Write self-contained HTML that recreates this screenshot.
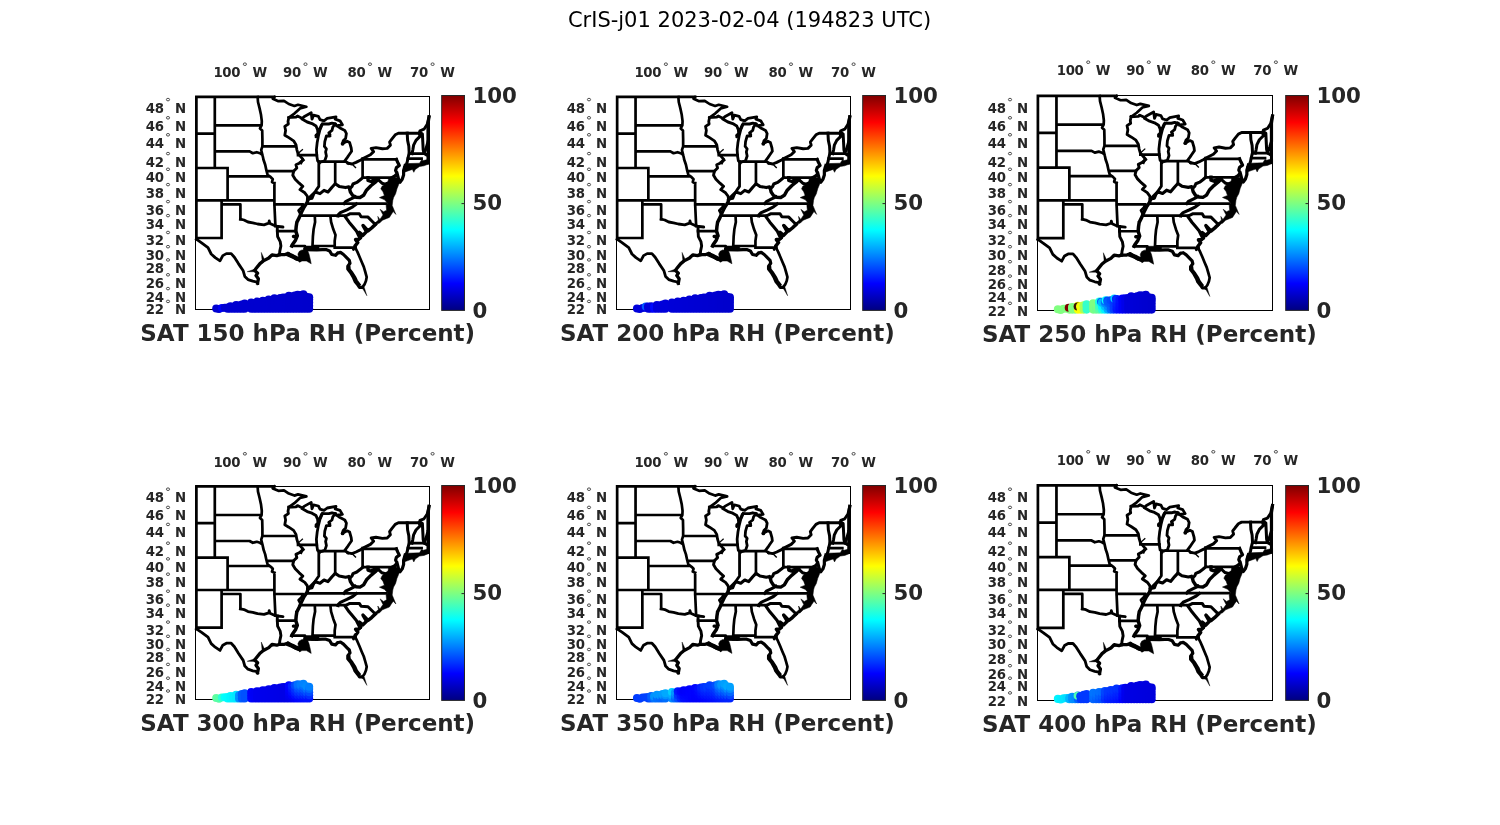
<!DOCTYPE html><html><head><meta charset="utf-8"><title>CrIS-j01 2023-02-04</title>
<style>html,body{margin:0;padding:0;background:#fff;overflow:hidden}svg{display:block;will-change:transform;-webkit-font-smoothing:antialiased}text{font-family:"DejaVu Sans","Liberation Sans",sans-serif}.b{font-weight:bold;fill:#262626}.t{font-size:13.3px;letter-spacing:-.28px}.c{font-size:21.3px}.p{font-size:23px}.m{fill:none;stroke:#000;stroke-width:2.7;stroke-linejoin:round;stroke-linecap:square}.f{fill:#000;stroke:#000;stroke-width:.5;stroke-linejoin:round}.d{fill:none;stroke:#262626;stroke-width:.8}</style></head><body>
<svg width="1500" height="825" viewBox="0 0 1500 825">
<defs><linearGradient id="jet" x1="0" y1="1" x2="0" y2="0"><stop offset="0" stop-color="rgb(0,0,128)"/><stop offset="0.125" stop-color="rgb(0,0,255)"/><stop offset="0.375" stop-color="rgb(0,255,255)"/><stop offset="0.625" stop-color="rgb(255,255,0)"/><stop offset="0.875" stop-color="rgb(255,0,0)"/><stop offset="1" stop-color="rgb(128,0,0)"/></linearGradient></defs>
<rect width="1500" height="825" fill="#fff"/>
<text x="749.5" y="27.2" font-size="21" text-anchor="middle" fill="#000">CrIS-j01 2023-02-04 (194823 UTC)</text>
<g transform="matrix(1,0,0,1,0.00,0.00)"><path class="m" d="M196.4 96.8 L196.4 239.2 M196.4 96.8 L274.4 96.8 M214.8 96.8 L214.8 168.0 M196.4 133.6 L214.8 133.6 M214.8 125.4 L260.8 125.4 M214.8 151.4 L249.6 151.4 L252.8 153.2 L256.8 152.2 L260.0 153.2 L262.4 154.8 L263.6 160.0 M257.6 96.8 L258.0 102.0 L259.6 108.4 L261.0 114.8 L261.8 121.2 L261.6 125.4 L260.0 128.4 L262.2 130.4 L262.4 138.8 L262.4 146.4 L261.2 150.0 L262.4 154.8 M262.4 146.4 L295.6 146.4 M274.4 96.8 L272.8 98.8 L278.4 101.2 L284.0 100.8 L288.8 104.0 L294.4 106.0 L298.0 104.8 L306.4 106.8 L300.0 108.4 L294.4 113.6 L288.8 117.6 M196.4 168.0 L227.6 168.0 M227.6 168.0 L227.6 200.4 M227.6 176.4 L268.0 176.4 M196.4 200.4 L274.4 200.4 M221.6 200.4 L221.6 238.0 M221.6 204.4 L240.4 204.4 L240.4 219.2 M274.4 183.2 L274.4 204.4 L275.4 226.0 M263.6 160.0 L265.2 164.8 L266.4 170.4 L267.6 174.8 L270.8 177.2 L272.8 179.2 L272.0 182.0 L274.4 183.2 M266.8 171.2 L293.6 171.2 M274.4 204.4 L303.2 204.4 L301.6 207.5 L298.6 210.5 L300.5 214.0 M196.4 238.0 L221.6 238.0 M277.3 231.1 L295.8 231.1 M291.8 246.0 L304.9 246.0 L304.9 249.6 M300.5 215.6 L345.6 215.6 M307.5 203.7 L386.2 203.7 M318.8 161.6 L344.8 161.6 M335.2 161.6 L335.2 183.2 M362.6 158.5 L362.6 177.6 M362.6 177.6 L392.0 177.6 M363.0 159.3 L396.4 159.3 M330.4 216.0 L331.1 222.0 L333.3 229.3 L335.5 235.1 L334.7 240.9 L334.7 247.4 M314.8 216.0 L315.1 222.0 L313.6 229.3 L312.9 236.5 L312.5 246.0 L312.5 249.6 M312.5 246.0 L334.7 246.0 M334.7 247.6 L352.8 247.6 L353.5 249.5 L354.5 247.5 L355.2 246.8 M298.0 155.2 L316.8 155.2 M409.2 153.6 L424.0 153.6 M408.0 158.6 L421.6 158.6"/><path class="m" style="stroke-width:3.3" d="M257.6 283.0 L258.4 278.8 L256.0 275.6 L257.6 273.2 L254.6 270.4 L256.0 268.6 L260.0 263.6 L263.4 260.9 L268.8 258.0 L272.0 254.8 L276.8 255.6 L279.5 254.7"/><path class="m" style="stroke-width:3.2" d="M279.5 254.7 L284.5 254.7 L288.2 253.3 L291.8 256.2 L295.5 258.4 L299.1 259.8 M304.9 249.6 L316.8 249.8 L322.4 249.6 L326.0 249.6 L329.6 250.9 L331.8 254.5 L335.5 255.3 L337.6 253.1 L340.5 252.4 L343.5 254.5 L347.1 258.2 L349.3 260.4 L350.0 263.3 L347.8 266.2 L347.8 269.1 L350.7 272.7 L353.6 277.8 L355.1 281.5 L358.0 285.1 L359.5 287.3 L362.4 287.3 M349.0 267.5 L349.2 269.4 L352.0 273.0 L354.9 277.6 L356.4 281.0 L359.0 284.4 M405.1 165.5 L403.6 170.5 L403.6 174.9 L402.2 179.3 L400.0 182.2 L398.5 179.0 L397.1 173.5 M429.0 116.8 L428.0 124.0 L428.0 142.0 L426.4 147.6 L424.0 153.2 M396.4 159.3 L397.8 162.5 L399.3 165.5 L396.4 167.6 L395.6 170.5 L397.1 173.5 L394.9 176.0 L392.0 177.6"/><path class="m" style="stroke-width:4.4" d="M288.5 254.6 L292.8 256.4 L296.4 258.3 L299.1 259.2"/><path class="m" style="stroke-width:3" d="M377.6 179.2 L382.0 183.2 L385.2 184.2 L387.6 183.2 M428.0 142.0 L428.0 163.0 M345.5 216.0 L349.8 213.8 L359.3 213.8 L361.1 216.7 L368.0 217.1 L373.1 222.2 L375.3 224.4 M419.2 133.2 L420.0 136.4 L416.0 140.4 L413.6 145.2 L412.8 150.0 L412.0 153.6 M407.2 133.2 L407.6 140.4 L408.8 146.0 L409.2 153.2 L408.0 158.0 L407.2 162.0 L406.0 165.5 M420.0 132.4 L422.4 134.0 L422.8 142.0 L423.2 150.0 L424.0 153.2 L426.4 154.8"/><path class="m" style="stroke-width:3.5" d="M375.3 224.4 L371.6 228.0 L368.0 230.9 L363.0 225.5 L366.5 231.6 L362.9 235.3 L359.3 232.4 L360.7 237.5 L358.5 239.6 L355.6 239.6 L357.8 242.5 L354.9 246.2 L355.1 247.3 M308.0 199.2 L307.2 202.4 L304.0 207.2 L301.6 212.0 L299.2 217.6 L296.8 222.4 L296.9 222.0 L296.2 226.4 L295.8 231.1 L297.3 235.8 L293.5 236.5 L297.3 235.8 L295.5 240.2 L292.5 244.5 L291.8 246.0"/><path class="m" style="stroke-width:3.1" d="M308.0 199.2 L312.0 195.2 L315.2 192.0 L320.0 193.6 L324.0 190.4 L328.0 192.0 L332.0 187.2 L335.2 183.8 L339.2 186.4 L345.6 187.6 L348.8 186.8 L349.6 188.8 L352.0 186.4 L353.0 184.0 L356.8 182.4 L360.0 180.0 L362.8 177.6 M356.4 204.0 L352.7 206.9 L346.9 209.8 L340.4 212.7 L338.2 214.9 L338.0 216.0 M345.5 217.1 L349.1 222.2 L352.7 226.5 L356.4 230.9 L358.5 235.3 L360.0 238.2 M355.2 196.8 L350.4 199.2 L345.6 201.6 L344.0 203.6"/><path class="m" style="stroke-width:3.4" d="M349.6 188.8 L350.4 192.0 L352.8 195.6 L356.0 197.2 L360.0 197.5 L363.6 195.3 L366.5 190.2 L370.9 185.8 L375.3 182.2 L378.2 179.3 L374.5 179.6 L371.0 181.5 L368.0 180.5 L368.0 177.6"/><path class="m" style="stroke-width:2.9" d="M348.0 163.2 L352.0 164.0 L356.0 162.4 L360.8 160.0 L364.0 158.0 L370.4 154.8 L373.6 151.6 L371.2 148.4 L376.0 147.6 L382.4 148.8 L387.2 148.4 L390.4 145.2 L389.6 142.0 L392.0 138.8 L395.2 134.8 L398.4 133.2 L419.2 133.2 L420.0 130.8 L424.0 129.2 L427.2 124.4 L429.0 116.8 M303.2 160.0 L299.2 163.2 L296.0 164.8 L296.8 168.0 L293.6 171.2 L292.8 175.2 L295.2 179.2 L299.2 183.2 L302.8 186.4 L300.0 189.6 L304.8 192.8 L307.2 196.0 L308.0 199.2 M302.4 119.2 L307.2 122.0 L312.0 123.6 L316.0 126.0 L317.6 129.6 L318.0 133.6 L316.0 136.8 L319.2 130.4 L321.6 124.8 L322.4 124.0 L328.8 124.0 L332.0 123.2 L335.2 124.0 M277.3 226.4 L277.3 230.7 L277.6 236.5 L280.2 241.6 L280.9 246.0 L279.8 251.1 L279.5 254.7"/><path class="m" style="stroke-width:1.3" d="M298.0 153.6 L302.4 149.6"/><path class="m" style="stroke-width:1.4" d="M352.0 164.0 L355.5 167.5"/><path class="m" style="stroke-width:2.7" d="M355.1 247.3 L357.3 251.6 L359.5 256.7 L361.6 261.8 L363.8 266.9 L365.3 272.0 L366.7 277.1 L366.0 280.7 L364.5 284.4 L362.4 287.3"/><path class="m" style="stroke-width:2.8" d="M318.8 161.6 L318.8 186.4 L316.0 190.4 L313.6 194.4 L312.0 198.4 L308.0 199.2 M336.8 125.6 L340.0 128.0 L344.8 130.4 L346.4 133.6 L345.6 138.4 L343.2 140.8 L342.4 143.6 L347.2 141.2 L349.6 142.4 L351.2 148.0 L351.6 151.2 L348.8 155.2 L347.2 157.6 L344.8 160.8 L348.0 163.2 M335.2 124.0 L332.8 127.2 L332.0 130.4 L328.8 132.8 L330.0 136.0 L326.4 136.0 L324.8 141.6 L324.4 146.4 L326.4 148.8 L325.6 152.0 L326.4 156.0 L324.8 160.8 L322.4 161.6 M288.8 117.6 L296.0 117.2 L297.5 116.0 L302.4 118.4 L304.0 116.8 L311.2 112.8 L312.0 119.2 L313.6 115.2 L318.4 116.4 L320.0 119.6 L324.0 120.8 L327.2 118.4 L336.0 116.8 L335.2 119.2 L340.0 120.8 L342.4 124.8 L336.8 125.6 M322.4 124.0 L320.0 129.6 L318.4 136.0 L317.2 142.4 L316.4 149.6 L316.8 156.0 L317.6 160.8 L320.0 162.5 M288.8 117.6 L288.0 121.6 L288.4 124.0 L284.8 126.4 L285.6 130.4 L284.8 135.2 L288.8 137.6 L293.6 140.8 L296.0 144.8 L296.8 149.6 L298.0 153.6 L302.8 159.2 L301.0 163.0 M196.4 239.2 L201.6 242.8 L208.0 247.6 L211.2 254.0 L215.2 257.6 L220.0 260.8 L222.8 255.6 L226.4 253.6 L231.2 253.6 L234.4 257.2 L238.4 263.6 L243.2 270.8 L244.8 276.4 L248.0 279.6 L252.8 281.2 L256.8 282.0 L257.6 283.6 M240.4 219.2 L244.0 220.0 L248.0 222.0 L252.8 222.8 L257.6 224.0 L264.0 224.8 L268.8 223.2 L269.2 221.0 L270.0 223.6 L274.4 225.6 L277.3 226.4 L283.0 227.0 L277.3 226.4"/><path class="f" d="M388.6 178.4 L392.0 178.2 L394.9 177.2 L398.6 178.5 L399.9 181.5 L398.5 185.1 L397.0 188.7 L395.6 193.8 L393.6 197.5 L392.8 200.4 L392.2 205.5 L395.9 214.4 L393.2 211.6 L391.0 214.9 L389.4 217.4 L386.2 218.7 L382.5 220.2 L379.6 223.1 L375.6 224.6 L374.4 223.6 L378.4 220.0 L377.8 216.4 L379.9 219.4 L383.0 214.9 L380.1 209.3 L383.5 211.8 L386.6 210.2 L386.1 205.5 L387.5 203.3 L384.6 199.8 L379.4 197.6 L384.4 195.6 L383.0 191.8 L380.8 188.8 L382.2 186.0 L387.6 183.2Z M407.5 163.6 L419.5 163.2 L421.5 160.0 L423.3 160.6 L429.1 159.2 L429.1 163.8 L424.0 165.8 L419.6 166.5 L415.3 169.4 L413.8 172.3 L412.4 169.4 L408.0 170.9 L404.6 172.2 L404.0 170.5 L403.4 166.6 L405.8 164.4Z M299.3 251.3 L302.0 249.9 L307.6 250.6 L309.0 254.0 L310.4 259.8 L311.2 263.8 L306.4 261.0 L302.0 261.0 L299.4 262.3 L298.7 258.4 L297.9 254.0Z M305.0 246.0 L319.0 246.0 L319.0 249.8 L305.0 249.8Z"/><path d="M361.4 286.4 L364.2 287.2 L366.9 295.8Z M262.2 261.8 L261.3 252.4 L264.8 260.2Z M255.6 268.8 L247.2 271.7 L254.8 271.8Z" fill="#000" stroke="#000" stroke-width=".4"/><circle cx="342.6" cy="143.8" r="1.9"/><circle cx="316.3" cy="135.3" r="1.7"/><circle cx="330" cy="134.3" r="1.3"/><circle cx="297" cy="116.6" r="1.4"/><circle cx="272.5" cy="255.3" r="1.5"/><circle cx="337.6" cy="252.6" r="1.1"/></g><rect x="195.5" y="96.5" width="234" height="213" fill="none" stroke="#000" stroke-width="1"/><g transform="matrix(1,0,0,1,0.00,0.00)"><g fill="#0000d1"><circle cx="216.2" cy="308.5" r="4"/></g><g fill="#0000d2"><circle cx="219.0" cy="309.1" r="4"/></g><g fill="#0000f5"><circle cx="221.9" cy="308.0" r="4"/></g><g fill="#0000d1"><circle cx="224.8" cy="307.7" r="4"/><circle cx="227.6" cy="308.8" r="4"/><circle cx="227.6" cy="307.4" r="4"/><circle cx="230.4" cy="308.8" r="4"/><circle cx="230.4" cy="306.3" r="4"/><circle cx="233.3" cy="308.8" r="4"/><circle cx="233.3" cy="306.7" r="4"/></g><g fill="#0000d0"><circle cx="236.1" cy="308.8" r="4"/><circle cx="236.1" cy="305.1" r="4"/><circle cx="239.0" cy="308.8" r="4"/><circle cx="239.0" cy="305.6" r="4"/><circle cx="241.8" cy="308.8" r="4"/><circle cx="241.8" cy="305.7" r="4"/><circle cx="241.8" cy="304.4" r="4"/><circle cx="244.7" cy="308.8" r="4"/><circle cx="244.7" cy="305.7" r="4"/><circle cx="244.7" cy="303.6" r="4"/><circle cx="251.2" cy="308.8" r="4"/><circle cx="251.2" cy="305.7" r="4"/><circle cx="251.2" cy="302.5" r="4"/></g><g fill="#0000cf"><circle cx="254.1" cy="308.8" r="4"/><circle cx="254.1" cy="305.7" r="4"/><circle cx="254.1" cy="303.1" r="4"/><circle cx="257.0" cy="308.8" r="4"/><circle cx="257.0" cy="305.7" r="4"/><circle cx="257.0" cy="301.6" r="4"/><circle cx="259.9" cy="308.8" r="4"/><circle cx="259.9" cy="305.7" r="4"/><circle cx="259.9" cy="301.9" r="4"/><circle cx="262.8" cy="308.8" r="4"/><circle cx="262.8" cy="305.7" r="4"/><circle cx="262.8" cy="302.6" r="4"/><circle cx="262.8" cy="300.7" r="4"/><circle cx="265.7" cy="308.8" r="4"/><circle cx="265.7" cy="305.7" r="4"/><circle cx="265.7" cy="302.6" r="4"/><circle cx="265.7" cy="301.0" r="4"/><circle cx="268.6" cy="308.8" r="4"/><circle cx="268.6" cy="305.7" r="4"/><circle cx="268.6" cy="302.6" r="4"/><circle cx="268.6" cy="299.6" r="4"/></g><g fill="#0000ce"><circle cx="271.5" cy="308.8" r="4"/><circle cx="271.5" cy="305.7" r="4"/><circle cx="271.5" cy="302.6" r="4"/><circle cx="271.5" cy="300.0" r="4"/><circle cx="274.4" cy="308.8" r="4"/><circle cx="274.4" cy="305.7" r="4"/><circle cx="274.4" cy="302.6" r="4"/><circle cx="274.4" cy="299.5" r="4"/><circle cx="274.4" cy="298.3" r="4"/><circle cx="277.3" cy="308.8" r="4"/><circle cx="277.3" cy="305.7" r="4"/><circle cx="277.3" cy="302.6" r="4"/><circle cx="277.3" cy="299.0" r="4"/><circle cx="280.2" cy="308.8" r="4"/><circle cx="280.2" cy="305.7" r="4"/><circle cx="280.2" cy="302.6" r="4"/><circle cx="280.2" cy="299.5" r="4"/><circle cx="280.2" cy="297.9" r="4"/><circle cx="283.1" cy="308.8" r="4"/><circle cx="283.1" cy="305.7" r="4"/><circle cx="283.1" cy="302.6" r="4"/><circle cx="283.1" cy="299.5" r="4"/><circle cx="283.1" cy="297.5" r="4"/><circle cx="286.0" cy="308.8" r="4"/><circle cx="286.0" cy="305.7" r="4"/><circle cx="286.0" cy="302.6" r="4"/><circle cx="286.0" cy="299.5" r="4"/><circle cx="286.0" cy="297.4" r="4"/></g><g fill="#0000cd"><circle cx="288.9" cy="308.8" r="4"/><circle cx="288.9" cy="305.7" r="4"/><circle cx="288.9" cy="302.6" r="4"/><circle cx="288.9" cy="299.5" r="4"/><circle cx="288.9" cy="295.7" r="4"/><circle cx="291.8" cy="308.8" r="4"/><circle cx="291.8" cy="305.7" r="4"/><circle cx="291.8" cy="302.6" r="4"/><circle cx="291.8" cy="299.5" r="4"/><circle cx="291.8" cy="296.4" r="4"/><circle cx="294.7" cy="308.8" r="4"/><circle cx="294.7" cy="305.7" r="4"/><circle cx="294.7" cy="302.6" r="4"/><circle cx="294.7" cy="299.5" r="4"/><circle cx="294.7" cy="295.6" r="4"/><circle cx="297.6" cy="308.8" r="4"/><circle cx="297.6" cy="305.7" r="4"/><circle cx="297.6" cy="302.6" r="4"/><circle cx="297.6" cy="299.5" r="4"/><circle cx="297.6" cy="296.4" r="4"/><circle cx="297.6" cy="294.7" r="4"/><circle cx="300.5" cy="308.8" r="4"/><circle cx="300.5" cy="305.7" r="4"/><circle cx="300.5" cy="302.6" r="4"/><circle cx="300.5" cy="299.5" r="4"/><circle cx="300.5" cy="296.4" r="4"/><circle cx="300.5" cy="294.9" r="4"/><circle cx="303.4" cy="308.8" r="4"/><circle cx="303.4" cy="305.7" r="4"/><circle cx="303.4" cy="302.6" r="4"/><circle cx="303.4" cy="299.5" r="4"/><circle cx="303.4" cy="296.4" r="4"/><circle cx="303.4" cy="294.2" r="4"/></g><g fill="#0000cc"><circle cx="306.3" cy="308.8" r="4"/><circle cx="306.3" cy="305.7" r="4"/><circle cx="306.3" cy="302.6" r="4"/><circle cx="306.3" cy="299.5" r="4"/><circle cx="306.3" cy="296.7" r="4"/><circle cx="309.2" cy="308.8" r="4"/><circle cx="309.2" cy="305.7" r="4"/><circle cx="309.2" cy="302.6" r="4"/><circle cx="309.2" cy="299.5" r="4"/><circle cx="309.2" cy="297.2" r="4"/></g></g><g transform="translate(0,0)"><rect x="441.7" y="95.5" width="22.8" height="214.9" fill="url(#jet)" stroke="#262626" stroke-width="1"/><path d="M461.5 203.6H464.5" stroke="#262626" stroke-width="1"/><text class="b c" x="472.4" y="102.8">100</text><text class="b c" x="472.4" y="209.8">50</text><text class="b c" x="472.4" y="317.6">0</text></g><g transform="translate(0,0)"><text class="b t" x="145.8" y="112.5">48</text><text class="b t" x="175" y="112.5">N</text><ellipse class="d" cx="168" cy="99.6" rx="1.6" ry="1.3"/><text class="b t" x="145.8" y="130.7">46</text><text class="b t" x="175" y="130.7">N</text><ellipse class="d" cx="168" cy="117.8" rx="1.6" ry="1.3"/><text class="b t" x="145.8" y="147.7">44</text><text class="b t" x="175" y="147.7">N</text><ellipse class="d" cx="168" cy="134.8" rx="1.6" ry="1.3"/><text class="b t" x="145.8" y="166.5">42</text><text class="b t" x="175" y="166.5">N</text><ellipse class="d" cx="168" cy="153.6" rx="1.6" ry="1.3"/><text class="b t" x="145.8" y="182.2">40</text><text class="b t" x="175" y="182.2">N</text><ellipse class="d" cx="168" cy="169.3" rx="1.6" ry="1.3"/><text class="b t" x="145.8" y="197.5">38</text><text class="b t" x="175" y="197.5">N</text><ellipse class="d" cx="168" cy="184.6" rx="1.6" ry="1.3"/><text class="b t" x="145.8" y="214.5">36</text><text class="b t" x="175" y="214.5">N</text><ellipse class="d" cx="168" cy="201.6" rx="1.6" ry="1.3"/><text class="b t" x="145.8" y="228.5">34</text><text class="b t" x="175" y="228.5">N</text><ellipse class="d" cx="168" cy="215.6" rx="1.6" ry="1.3"/><text class="b t" x="145.8" y="245.4">32</text><text class="b t" x="175" y="245.4">N</text><ellipse class="d" cx="168" cy="232.5" rx="1.6" ry="1.3"/><text class="b t" x="145.8" y="259.6">30</text><text class="b t" x="175" y="259.6">N</text><ellipse class="d" cx="168" cy="246.7" rx="1.6" ry="1.3"/><text class="b t" x="145.8" y="272.8">28</text><text class="b t" x="175" y="272.8">N</text><ellipse class="d" cx="168" cy="259.9" rx="1.6" ry="1.3"/><text class="b t" x="145.8" y="287.7">26</text><text class="b t" x="175" y="287.7">N</text><ellipse class="d" cx="168" cy="274.8" rx="1.6" ry="1.3"/><text class="b t" x="145.8" y="301.5">24</text><text class="b t" x="175" y="301.5">N</text><ellipse class="d" cx="168" cy="288.6" rx="1.6" ry="1.3"/><text class="b t" x="145.8" y="314.3">22</text><text class="b t" x="175" y="314.3">N</text><ellipse class="d" cx="168" cy="301.4" rx="1.6" ry="1.3"/></g><g transform="translate(0,0)"><text class="b t" x="240.3" y="77" text-anchor="end">100</text><ellipse class="d" cx="244.9" cy="64.2" rx="1.6" ry="1.3"/><text class="b t" x="252.5" y="77">W</text><text class="b t" x="300.9" y="77" text-anchor="end">90</text><ellipse class="d" cx="305.5" cy="64.2" rx="1.6" ry="1.3"/><text class="b t" x="313.1" y="77">W</text><text class="b t" x="365.4" y="77" text-anchor="end">80</text><ellipse class="d" cx="370.0" cy="64.2" rx="1.6" ry="1.3"/><text class="b t" x="377.6" y="77">W</text><text class="b t" x="428.0" y="77" text-anchor="end">70</text><ellipse class="d" cx="432.6" cy="64.2" rx="1.6" ry="1.3"/><text class="b t" x="440.2" y="77">W</text></g><text class="b p" x="140.3" y="341.0">SAT 150 hPa RH (Percent)</text>
<g transform="matrix(1,0,0,1,420.75,0.00)"><path class="m" d="M196.4 96.8 L196.4 239.2 M196.4 96.8 L274.4 96.8 M214.8 96.8 L214.8 168.0 M196.4 133.6 L214.8 133.6 M214.8 125.4 L260.8 125.4 M214.8 151.4 L249.6 151.4 L252.8 153.2 L256.8 152.2 L260.0 153.2 L262.4 154.8 L263.6 160.0 M257.6 96.8 L258.0 102.0 L259.6 108.4 L261.0 114.8 L261.8 121.2 L261.6 125.4 L260.0 128.4 L262.2 130.4 L262.4 138.8 L262.4 146.4 L261.2 150.0 L262.4 154.8 M262.4 146.4 L295.6 146.4 M274.4 96.8 L272.8 98.8 L278.4 101.2 L284.0 100.8 L288.8 104.0 L294.4 106.0 L298.0 104.8 L306.4 106.8 L300.0 108.4 L294.4 113.6 L288.8 117.6 M196.4 168.0 L227.6 168.0 M227.6 168.0 L227.6 200.4 M227.6 176.4 L268.0 176.4 M196.4 200.4 L274.4 200.4 M221.6 200.4 L221.6 238.0 M221.6 204.4 L240.4 204.4 L240.4 219.2 M274.4 183.2 L274.4 204.4 L275.4 226.0 M263.6 160.0 L265.2 164.8 L266.4 170.4 L267.6 174.8 L270.8 177.2 L272.8 179.2 L272.0 182.0 L274.4 183.2 M266.8 171.2 L293.6 171.2 M274.4 204.4 L303.2 204.4 L301.6 207.5 L298.6 210.5 L300.5 214.0 M196.4 238.0 L221.6 238.0 M277.3 231.1 L295.8 231.1 M291.8 246.0 L304.9 246.0 L304.9 249.6 M300.5 215.6 L345.6 215.6 M307.5 203.7 L386.2 203.7 M318.8 161.6 L344.8 161.6 M335.2 161.6 L335.2 183.2 M362.6 158.5 L362.6 177.6 M362.6 177.6 L392.0 177.6 M363.0 159.3 L396.4 159.3 M330.4 216.0 L331.1 222.0 L333.3 229.3 L335.5 235.1 L334.7 240.9 L334.7 247.4 M314.8 216.0 L315.1 222.0 L313.6 229.3 L312.9 236.5 L312.5 246.0 L312.5 249.6 M312.5 246.0 L334.7 246.0 M334.7 247.6 L352.8 247.6 L353.5 249.5 L354.5 247.5 L355.2 246.8 M298.0 155.2 L316.8 155.2 M409.2 153.6 L424.0 153.6 M408.0 158.6 L421.6 158.6"/><path class="m" style="stroke-width:3.3" d="M257.6 283.0 L258.4 278.8 L256.0 275.6 L257.6 273.2 L254.6 270.4 L256.0 268.6 L260.0 263.6 L263.4 260.9 L268.8 258.0 L272.0 254.8 L276.8 255.6 L279.5 254.7"/><path class="m" style="stroke-width:3.2" d="M279.5 254.7 L284.5 254.7 L288.2 253.3 L291.8 256.2 L295.5 258.4 L299.1 259.8 M304.9 249.6 L316.8 249.8 L322.4 249.6 L326.0 249.6 L329.6 250.9 L331.8 254.5 L335.5 255.3 L337.6 253.1 L340.5 252.4 L343.5 254.5 L347.1 258.2 L349.3 260.4 L350.0 263.3 L347.8 266.2 L347.8 269.1 L350.7 272.7 L353.6 277.8 L355.1 281.5 L358.0 285.1 L359.5 287.3 L362.4 287.3 M349.0 267.5 L349.2 269.4 L352.0 273.0 L354.9 277.6 L356.4 281.0 L359.0 284.4 M405.1 165.5 L403.6 170.5 L403.6 174.9 L402.2 179.3 L400.0 182.2 L398.5 179.0 L397.1 173.5 M429.0 116.8 L428.0 124.0 L428.0 142.0 L426.4 147.6 L424.0 153.2 M396.4 159.3 L397.8 162.5 L399.3 165.5 L396.4 167.6 L395.6 170.5 L397.1 173.5 L394.9 176.0 L392.0 177.6"/><path class="m" style="stroke-width:4.4" d="M288.5 254.6 L292.8 256.4 L296.4 258.3 L299.1 259.2"/><path class="m" style="stroke-width:3" d="M377.6 179.2 L382.0 183.2 L385.2 184.2 L387.6 183.2 M428.0 142.0 L428.0 163.0 M345.5 216.0 L349.8 213.8 L359.3 213.8 L361.1 216.7 L368.0 217.1 L373.1 222.2 L375.3 224.4 M419.2 133.2 L420.0 136.4 L416.0 140.4 L413.6 145.2 L412.8 150.0 L412.0 153.6 M407.2 133.2 L407.6 140.4 L408.8 146.0 L409.2 153.2 L408.0 158.0 L407.2 162.0 L406.0 165.5 M420.0 132.4 L422.4 134.0 L422.8 142.0 L423.2 150.0 L424.0 153.2 L426.4 154.8"/><path class="m" style="stroke-width:3.5" d="M375.3 224.4 L371.6 228.0 L368.0 230.9 L363.0 225.5 L366.5 231.6 L362.9 235.3 L359.3 232.4 L360.7 237.5 L358.5 239.6 L355.6 239.6 L357.8 242.5 L354.9 246.2 L355.1 247.3 M308.0 199.2 L307.2 202.4 L304.0 207.2 L301.6 212.0 L299.2 217.6 L296.8 222.4 L296.9 222.0 L296.2 226.4 L295.8 231.1 L297.3 235.8 L293.5 236.5 L297.3 235.8 L295.5 240.2 L292.5 244.5 L291.8 246.0"/><path class="m" style="stroke-width:3.1" d="M308.0 199.2 L312.0 195.2 L315.2 192.0 L320.0 193.6 L324.0 190.4 L328.0 192.0 L332.0 187.2 L335.2 183.8 L339.2 186.4 L345.6 187.6 L348.8 186.8 L349.6 188.8 L352.0 186.4 L353.0 184.0 L356.8 182.4 L360.0 180.0 L362.8 177.6 M356.4 204.0 L352.7 206.9 L346.9 209.8 L340.4 212.7 L338.2 214.9 L338.0 216.0 M345.5 217.1 L349.1 222.2 L352.7 226.5 L356.4 230.9 L358.5 235.3 L360.0 238.2 M355.2 196.8 L350.4 199.2 L345.6 201.6 L344.0 203.6"/><path class="m" style="stroke-width:3.4" d="M349.6 188.8 L350.4 192.0 L352.8 195.6 L356.0 197.2 L360.0 197.5 L363.6 195.3 L366.5 190.2 L370.9 185.8 L375.3 182.2 L378.2 179.3 L374.5 179.6 L371.0 181.5 L368.0 180.5 L368.0 177.6"/><path class="m" style="stroke-width:2.9" d="M348.0 163.2 L352.0 164.0 L356.0 162.4 L360.8 160.0 L364.0 158.0 L370.4 154.8 L373.6 151.6 L371.2 148.4 L376.0 147.6 L382.4 148.8 L387.2 148.4 L390.4 145.2 L389.6 142.0 L392.0 138.8 L395.2 134.8 L398.4 133.2 L419.2 133.2 L420.0 130.8 L424.0 129.2 L427.2 124.4 L429.0 116.8 M303.2 160.0 L299.2 163.2 L296.0 164.8 L296.8 168.0 L293.6 171.2 L292.8 175.2 L295.2 179.2 L299.2 183.2 L302.8 186.4 L300.0 189.6 L304.8 192.8 L307.2 196.0 L308.0 199.2 M302.4 119.2 L307.2 122.0 L312.0 123.6 L316.0 126.0 L317.6 129.6 L318.0 133.6 L316.0 136.8 L319.2 130.4 L321.6 124.8 L322.4 124.0 L328.8 124.0 L332.0 123.2 L335.2 124.0 M277.3 226.4 L277.3 230.7 L277.6 236.5 L280.2 241.6 L280.9 246.0 L279.8 251.1 L279.5 254.7"/><path class="m" style="stroke-width:1.3" d="M298.0 153.6 L302.4 149.6"/><path class="m" style="stroke-width:1.4" d="M352.0 164.0 L355.5 167.5"/><path class="m" style="stroke-width:2.7" d="M355.1 247.3 L357.3 251.6 L359.5 256.7 L361.6 261.8 L363.8 266.9 L365.3 272.0 L366.7 277.1 L366.0 280.7 L364.5 284.4 L362.4 287.3"/><path class="m" style="stroke-width:2.8" d="M318.8 161.6 L318.8 186.4 L316.0 190.4 L313.6 194.4 L312.0 198.4 L308.0 199.2 M336.8 125.6 L340.0 128.0 L344.8 130.4 L346.4 133.6 L345.6 138.4 L343.2 140.8 L342.4 143.6 L347.2 141.2 L349.6 142.4 L351.2 148.0 L351.6 151.2 L348.8 155.2 L347.2 157.6 L344.8 160.8 L348.0 163.2 M335.2 124.0 L332.8 127.2 L332.0 130.4 L328.8 132.8 L330.0 136.0 L326.4 136.0 L324.8 141.6 L324.4 146.4 L326.4 148.8 L325.6 152.0 L326.4 156.0 L324.8 160.8 L322.4 161.6 M288.8 117.6 L296.0 117.2 L297.5 116.0 L302.4 118.4 L304.0 116.8 L311.2 112.8 L312.0 119.2 L313.6 115.2 L318.4 116.4 L320.0 119.6 L324.0 120.8 L327.2 118.4 L336.0 116.8 L335.2 119.2 L340.0 120.8 L342.4 124.8 L336.8 125.6 M322.4 124.0 L320.0 129.6 L318.4 136.0 L317.2 142.4 L316.4 149.6 L316.8 156.0 L317.6 160.8 L320.0 162.5 M288.8 117.6 L288.0 121.6 L288.4 124.0 L284.8 126.4 L285.6 130.4 L284.8 135.2 L288.8 137.6 L293.6 140.8 L296.0 144.8 L296.8 149.6 L298.0 153.6 L302.8 159.2 L301.0 163.0 M196.4 239.2 L201.6 242.8 L208.0 247.6 L211.2 254.0 L215.2 257.6 L220.0 260.8 L222.8 255.6 L226.4 253.6 L231.2 253.6 L234.4 257.2 L238.4 263.6 L243.2 270.8 L244.8 276.4 L248.0 279.6 L252.8 281.2 L256.8 282.0 L257.6 283.6 M240.4 219.2 L244.0 220.0 L248.0 222.0 L252.8 222.8 L257.6 224.0 L264.0 224.8 L268.8 223.2 L269.2 221.0 L270.0 223.6 L274.4 225.6 L277.3 226.4 L283.0 227.0 L277.3 226.4"/><path class="f" d="M388.6 178.4 L392.0 178.2 L394.9 177.2 L398.6 178.5 L399.9 181.5 L398.5 185.1 L397.0 188.7 L395.6 193.8 L393.6 197.5 L392.8 200.4 L392.2 205.5 L395.9 214.4 L393.2 211.6 L391.0 214.9 L389.4 217.4 L386.2 218.7 L382.5 220.2 L379.6 223.1 L375.6 224.6 L374.4 223.6 L378.4 220.0 L377.8 216.4 L379.9 219.4 L383.0 214.9 L380.1 209.3 L383.5 211.8 L386.6 210.2 L386.1 205.5 L387.5 203.3 L384.6 199.8 L379.4 197.6 L384.4 195.6 L383.0 191.8 L380.8 188.8 L382.2 186.0 L387.6 183.2Z M407.5 163.6 L419.5 163.2 L421.5 160.0 L423.3 160.6 L429.1 159.2 L429.1 163.8 L424.0 165.8 L419.6 166.5 L415.3 169.4 L413.8 172.3 L412.4 169.4 L408.0 170.9 L404.6 172.2 L404.0 170.5 L403.4 166.6 L405.8 164.4Z M299.3 251.3 L302.0 249.9 L307.6 250.6 L309.0 254.0 L310.4 259.8 L311.2 263.8 L306.4 261.0 L302.0 261.0 L299.4 262.3 L298.7 258.4 L297.9 254.0Z M305.0 246.0 L319.0 246.0 L319.0 249.8 L305.0 249.8Z"/><path d="M361.4 286.4 L364.2 287.2 L366.9 295.8Z M262.2 261.8 L261.3 252.4 L264.8 260.2Z M255.6 268.8 L247.2 271.7 L254.8 271.8Z" fill="#000" stroke="#000" stroke-width=".4"/><circle cx="342.6" cy="143.8" r="1.9"/><circle cx="316.3" cy="135.3" r="1.7"/><circle cx="330" cy="134.3" r="1.3"/><circle cx="297" cy="116.6" r="1.4"/><circle cx="272.5" cy="255.3" r="1.5"/><circle cx="337.6" cy="252.6" r="1.1"/></g><rect x="616.5" y="96.5" width="234" height="213" fill="none" stroke="#000" stroke-width="1"/><g transform="matrix(1,0,0,1,420.75,0.00)"><g fill="#0000db"><circle cx="216.2" cy="308.5" r="4"/><circle cx="219.0" cy="309.1" r="4"/><circle cx="221.9" cy="308.0" r="4"/><circle cx="224.8" cy="307.7" r="4"/></g><g fill="#0057ff"><circle cx="225.0" cy="306.6" r="4"/></g><g fill="#0000e0"><circle cx="227.2" cy="306.6" r="4"/></g><g fill="#0000db"><circle cx="227.6" cy="308.8" r="4"/><circle cx="227.6" cy="307.4" r="4"/><circle cx="230.4" cy="308.8" r="4"/><circle cx="230.4" cy="306.3" r="4"/></g><g fill="#0001ff"><circle cx="233.3" cy="308.8" r="4"/></g><g fill="#000aff"><circle cx="233.3" cy="306.7" r="4"/></g><g fill="#0000db"><circle cx="236.1" cy="308.8" r="4"/><circle cx="236.1" cy="305.1" r="4"/><circle cx="239.0" cy="308.8" r="4"/><circle cx="239.0" cy="305.6" r="4"/></g><g fill="#0000da"><circle cx="241.8" cy="308.8" r="4"/><circle cx="241.8" cy="305.7" r="4"/><circle cx="241.8" cy="304.4" r="4"/><circle cx="244.7" cy="308.8" r="4"/><circle cx="244.7" cy="305.7" r="4"/><circle cx="244.7" cy="303.6" r="4"/></g><g fill="#0000d8"><circle cx="251.2" cy="308.8" r="4"/><circle cx="251.2" cy="305.7" r="4"/><circle cx="251.2" cy="302.5" r="4"/><circle cx="254.1" cy="308.8" r="4"/><circle cx="254.1" cy="305.7" r="4"/><circle cx="254.1" cy="303.1" r="4"/></g><g fill="#0000d7"><circle cx="257.0" cy="308.8" r="4"/><circle cx="257.0" cy="305.7" r="4"/><circle cx="257.0" cy="301.6" r="4"/><circle cx="259.9" cy="308.8" r="4"/><circle cx="259.9" cy="305.7" r="4"/><circle cx="259.9" cy="301.9" r="4"/></g><g fill="#0000d6"><circle cx="262.8" cy="308.8" r="4"/><circle cx="262.8" cy="305.7" r="4"/><circle cx="262.8" cy="302.6" r="4"/><circle cx="262.8" cy="300.7" r="4"/></g><g fill="#0000d5"><circle cx="265.7" cy="308.8" r="4"/><circle cx="265.7" cy="305.7" r="4"/><circle cx="265.7" cy="302.6" r="4"/><circle cx="265.7" cy="301.0" r="4"/><circle cx="268.6" cy="308.8" r="4"/><circle cx="268.6" cy="305.7" r="4"/><circle cx="268.6" cy="302.6" r="4"/><circle cx="268.6" cy="299.6" r="4"/></g><g fill="#0000d4"><circle cx="271.5" cy="308.8" r="4"/><circle cx="271.5" cy="305.7" r="4"/><circle cx="271.5" cy="302.6" r="4"/><circle cx="271.5" cy="300.0" r="4"/><circle cx="274.4" cy="308.8" r="4"/><circle cx="274.4" cy="305.7" r="4"/><circle cx="274.4" cy="302.6" r="4"/><circle cx="274.4" cy="299.5" r="4"/><circle cx="274.4" cy="298.3" r="4"/></g><g fill="#0000d3"><circle cx="277.3" cy="308.8" r="4"/><circle cx="277.3" cy="305.7" r="4"/><circle cx="277.3" cy="302.6" r="4"/><circle cx="277.3" cy="299.0" r="4"/><circle cx="280.2" cy="308.8" r="4"/><circle cx="280.2" cy="305.7" r="4"/><circle cx="280.2" cy="302.6" r="4"/><circle cx="280.2" cy="299.5" r="4"/><circle cx="280.2" cy="297.9" r="4"/></g><g fill="#0000d2"><circle cx="283.1" cy="308.8" r="4"/><circle cx="283.1" cy="305.7" r="4"/><circle cx="283.1" cy="302.6" r="4"/><circle cx="283.1" cy="299.5" r="4"/><circle cx="283.1" cy="297.5" r="4"/></g><g fill="#0000d1"><circle cx="286.0" cy="308.8" r="4"/><circle cx="286.0" cy="305.7" r="4"/><circle cx="286.0" cy="302.6" r="4"/><circle cx="286.0" cy="299.5" r="4"/><circle cx="286.0" cy="297.4" r="4"/><circle cx="288.9" cy="308.8" r="4"/><circle cx="288.9" cy="305.7" r="4"/><circle cx="288.9" cy="302.6" r="4"/><circle cx="288.9" cy="299.5" r="4"/><circle cx="288.9" cy="295.7" r="4"/></g><g fill="#0000d0"><circle cx="291.8" cy="308.8" r="4"/><circle cx="291.8" cy="305.7" r="4"/><circle cx="291.8" cy="302.6" r="4"/><circle cx="291.8" cy="299.5" r="4"/><circle cx="291.8" cy="296.4" r="4"/><circle cx="294.7" cy="308.8" r="4"/><circle cx="294.7" cy="305.7" r="4"/><circle cx="294.7" cy="302.6" r="4"/><circle cx="294.7" cy="299.5" r="4"/><circle cx="294.7" cy="295.6" r="4"/></g><g fill="#0000cf"><circle cx="297.6" cy="308.8" r="4"/><circle cx="297.6" cy="305.7" r="4"/><circle cx="297.6" cy="302.6" r="4"/><circle cx="297.6" cy="299.5" r="4"/><circle cx="297.6" cy="296.4" r="4"/><circle cx="297.6" cy="294.7" r="4"/></g><g fill="#0000ce"><circle cx="300.5" cy="308.8" r="4"/><circle cx="300.5" cy="305.7" r="4"/><circle cx="300.5" cy="302.6" r="4"/><circle cx="300.5" cy="299.5" r="4"/><circle cx="300.5" cy="296.4" r="4"/><circle cx="300.5" cy="294.9" r="4"/><circle cx="303.4" cy="308.8" r="4"/><circle cx="303.4" cy="305.7" r="4"/><circle cx="303.4" cy="302.6" r="4"/><circle cx="303.4" cy="299.5" r="4"/><circle cx="303.4" cy="296.4" r="4"/><circle cx="303.4" cy="294.2" r="4"/></g><g fill="#0000cd"><circle cx="306.3" cy="308.8" r="4"/><circle cx="306.3" cy="305.7" r="4"/><circle cx="306.3" cy="302.6" r="4"/><circle cx="306.3" cy="299.5" r="4"/><circle cx="306.3" cy="296.7" r="4"/><circle cx="309.2" cy="308.8" r="4"/><circle cx="309.2" cy="305.7" r="4"/><circle cx="309.2" cy="302.6" r="4"/><circle cx="309.2" cy="299.5" r="4"/><circle cx="309.2" cy="297.2" r="4"/></g></g><g transform="translate(421,0)"><rect x="441.7" y="95.5" width="22.8" height="214.9" fill="url(#jet)" stroke="#262626" stroke-width="1"/><path d="M461.5 203.6H464.5" stroke="#262626" stroke-width="1"/><text class="b c" x="472.4" y="102.8">100</text><text class="b c" x="472.4" y="209.8">50</text><text class="b c" x="472.4" y="317.6">0</text></g><g transform="translate(421,0)"><text class="b t" x="145.8" y="112.5">48</text><text class="b t" x="175" y="112.5">N</text><ellipse class="d" cx="168" cy="99.6" rx="1.6" ry="1.3"/><text class="b t" x="145.8" y="130.7">46</text><text class="b t" x="175" y="130.7">N</text><ellipse class="d" cx="168" cy="117.8" rx="1.6" ry="1.3"/><text class="b t" x="145.8" y="147.7">44</text><text class="b t" x="175" y="147.7">N</text><ellipse class="d" cx="168" cy="134.8" rx="1.6" ry="1.3"/><text class="b t" x="145.8" y="166.5">42</text><text class="b t" x="175" y="166.5">N</text><ellipse class="d" cx="168" cy="153.6" rx="1.6" ry="1.3"/><text class="b t" x="145.8" y="182.2">40</text><text class="b t" x="175" y="182.2">N</text><ellipse class="d" cx="168" cy="169.3" rx="1.6" ry="1.3"/><text class="b t" x="145.8" y="197.5">38</text><text class="b t" x="175" y="197.5">N</text><ellipse class="d" cx="168" cy="184.6" rx="1.6" ry="1.3"/><text class="b t" x="145.8" y="214.5">36</text><text class="b t" x="175" y="214.5">N</text><ellipse class="d" cx="168" cy="201.6" rx="1.6" ry="1.3"/><text class="b t" x="145.8" y="228.5">34</text><text class="b t" x="175" y="228.5">N</text><ellipse class="d" cx="168" cy="215.6" rx="1.6" ry="1.3"/><text class="b t" x="145.8" y="245.4">32</text><text class="b t" x="175" y="245.4">N</text><ellipse class="d" cx="168" cy="232.5" rx="1.6" ry="1.3"/><text class="b t" x="145.8" y="259.6">30</text><text class="b t" x="175" y="259.6">N</text><ellipse class="d" cx="168" cy="246.7" rx="1.6" ry="1.3"/><text class="b t" x="145.8" y="272.8">28</text><text class="b t" x="175" y="272.8">N</text><ellipse class="d" cx="168" cy="259.9" rx="1.6" ry="1.3"/><text class="b t" x="145.8" y="287.7">26</text><text class="b t" x="175" y="287.7">N</text><ellipse class="d" cx="168" cy="274.8" rx="1.6" ry="1.3"/><text class="b t" x="145.8" y="301.5">24</text><text class="b t" x="175" y="301.5">N</text><ellipse class="d" cx="168" cy="288.6" rx="1.6" ry="1.3"/><text class="b t" x="145.8" y="314.3">22</text><text class="b t" x="175" y="314.3">N</text><ellipse class="d" cx="168" cy="301.4" rx="1.6" ry="1.3"/></g><g transform="translate(421,0)"><text class="b t" x="240.3" y="77" text-anchor="end">100</text><ellipse class="d" cx="244.9" cy="64.2" rx="1.6" ry="1.3"/><text class="b t" x="252.5" y="77">W</text><text class="b t" x="300.9" y="77" text-anchor="end">90</text><ellipse class="d" cx="305.5" cy="64.2" rx="1.6" ry="1.3"/><text class="b t" x="313.1" y="77">W</text><text class="b t" x="365.4" y="77" text-anchor="end">80</text><ellipse class="d" cx="370.0" cy="64.2" rx="1.6" ry="1.3"/><text class="b t" x="377.6" y="77">W</text><text class="b t" x="428.0" y="77" text-anchor="end">70</text><ellipse class="d" cx="432.6" cy="64.2" rx="1.6" ry="1.3"/><text class="b t" x="440.2" y="77">W</text></g><text class="b p" x="559.9" y="341.0">SAT 200 hPa RH (Percent)</text>
<g transform="matrix(1.0085,0,0,1.0085,839.83,-1.82)"><path class="m" d="M196.4 96.8 L196.4 239.2 M196.4 96.8 L274.4 96.8 M214.8 96.8 L214.8 168.0 M196.4 133.6 L214.8 133.6 M214.8 125.4 L260.8 125.4 M214.8 151.4 L249.6 151.4 L252.8 153.2 L256.8 152.2 L260.0 153.2 L262.4 154.8 L263.6 160.0 M257.6 96.8 L258.0 102.0 L259.6 108.4 L261.0 114.8 L261.8 121.2 L261.6 125.4 L260.0 128.4 L262.2 130.4 L262.4 138.8 L262.4 146.4 L261.2 150.0 L262.4 154.8 M262.4 146.4 L295.6 146.4 M274.4 96.8 L272.8 98.8 L278.4 101.2 L284.0 100.8 L288.8 104.0 L294.4 106.0 L298.0 104.8 L306.4 106.8 L300.0 108.4 L294.4 113.6 L288.8 117.6 M196.4 168.0 L227.6 168.0 M227.6 168.0 L227.6 200.4 M227.6 176.4 L268.0 176.4 M196.4 200.4 L274.4 200.4 M221.6 200.4 L221.6 238.0 M221.6 204.4 L240.4 204.4 L240.4 219.2 M274.4 183.2 L274.4 204.4 L275.4 226.0 M263.6 160.0 L265.2 164.8 L266.4 170.4 L267.6 174.8 L270.8 177.2 L272.8 179.2 L272.0 182.0 L274.4 183.2 M266.8 171.2 L293.6 171.2 M274.4 204.4 L303.2 204.4 L301.6 207.5 L298.6 210.5 L300.5 214.0 M196.4 238.0 L221.6 238.0 M277.3 231.1 L295.8 231.1 M291.8 246.0 L304.9 246.0 L304.9 249.6 M300.5 215.6 L345.6 215.6 M307.5 203.7 L386.2 203.7 M318.8 161.6 L344.8 161.6 M335.2 161.6 L335.2 183.2 M362.6 158.5 L362.6 177.6 M362.6 177.6 L392.0 177.6 M363.0 159.3 L396.4 159.3 M330.4 216.0 L331.1 222.0 L333.3 229.3 L335.5 235.1 L334.7 240.9 L334.7 247.4 M314.8 216.0 L315.1 222.0 L313.6 229.3 L312.9 236.5 L312.5 246.0 L312.5 249.6 M312.5 246.0 L334.7 246.0 M334.7 247.6 L352.8 247.6 L353.5 249.5 L354.5 247.5 L355.2 246.8 M298.0 155.2 L316.8 155.2 M409.2 153.6 L424.0 153.6 M408.0 158.6 L421.6 158.6"/><path class="m" style="stroke-width:3.3" d="M257.6 283.0 L258.4 278.8 L256.0 275.6 L257.6 273.2 L254.6 270.4 L256.0 268.6 L260.0 263.6 L263.4 260.9 L268.8 258.0 L272.0 254.8 L276.8 255.6 L279.5 254.7"/><path class="m" style="stroke-width:3.2" d="M279.5 254.7 L284.5 254.7 L288.2 253.3 L291.8 256.2 L295.5 258.4 L299.1 259.8 M304.9 249.6 L316.8 249.8 L322.4 249.6 L326.0 249.6 L329.6 250.9 L331.8 254.5 L335.5 255.3 L337.6 253.1 L340.5 252.4 L343.5 254.5 L347.1 258.2 L349.3 260.4 L350.0 263.3 L347.8 266.2 L347.8 269.1 L350.7 272.7 L353.6 277.8 L355.1 281.5 L358.0 285.1 L359.5 287.3 L362.4 287.3 M349.0 267.5 L349.2 269.4 L352.0 273.0 L354.9 277.6 L356.4 281.0 L359.0 284.4 M405.1 165.5 L403.6 170.5 L403.6 174.9 L402.2 179.3 L400.0 182.2 L398.5 179.0 L397.1 173.5 M429.0 116.8 L428.0 124.0 L428.0 142.0 L426.4 147.6 L424.0 153.2 M396.4 159.3 L397.8 162.5 L399.3 165.5 L396.4 167.6 L395.6 170.5 L397.1 173.5 L394.9 176.0 L392.0 177.6"/><path class="m" style="stroke-width:4.4" d="M288.5 254.6 L292.8 256.4 L296.4 258.3 L299.1 259.2"/><path class="m" style="stroke-width:3" d="M377.6 179.2 L382.0 183.2 L385.2 184.2 L387.6 183.2 M428.0 142.0 L428.0 163.0 M345.5 216.0 L349.8 213.8 L359.3 213.8 L361.1 216.7 L368.0 217.1 L373.1 222.2 L375.3 224.4 M419.2 133.2 L420.0 136.4 L416.0 140.4 L413.6 145.2 L412.8 150.0 L412.0 153.6 M407.2 133.2 L407.6 140.4 L408.8 146.0 L409.2 153.2 L408.0 158.0 L407.2 162.0 L406.0 165.5 M420.0 132.4 L422.4 134.0 L422.8 142.0 L423.2 150.0 L424.0 153.2 L426.4 154.8"/><path class="m" style="stroke-width:3.5" d="M375.3 224.4 L371.6 228.0 L368.0 230.9 L363.0 225.5 L366.5 231.6 L362.9 235.3 L359.3 232.4 L360.7 237.5 L358.5 239.6 L355.6 239.6 L357.8 242.5 L354.9 246.2 L355.1 247.3 M308.0 199.2 L307.2 202.4 L304.0 207.2 L301.6 212.0 L299.2 217.6 L296.8 222.4 L296.9 222.0 L296.2 226.4 L295.8 231.1 L297.3 235.8 L293.5 236.5 L297.3 235.8 L295.5 240.2 L292.5 244.5 L291.8 246.0"/><path class="m" style="stroke-width:3.1" d="M308.0 199.2 L312.0 195.2 L315.2 192.0 L320.0 193.6 L324.0 190.4 L328.0 192.0 L332.0 187.2 L335.2 183.8 L339.2 186.4 L345.6 187.6 L348.8 186.8 L349.6 188.8 L352.0 186.4 L353.0 184.0 L356.8 182.4 L360.0 180.0 L362.8 177.6 M356.4 204.0 L352.7 206.9 L346.9 209.8 L340.4 212.7 L338.2 214.9 L338.0 216.0 M345.5 217.1 L349.1 222.2 L352.7 226.5 L356.4 230.9 L358.5 235.3 L360.0 238.2 M355.2 196.8 L350.4 199.2 L345.6 201.6 L344.0 203.6"/><path class="m" style="stroke-width:3.4" d="M349.6 188.8 L350.4 192.0 L352.8 195.6 L356.0 197.2 L360.0 197.5 L363.6 195.3 L366.5 190.2 L370.9 185.8 L375.3 182.2 L378.2 179.3 L374.5 179.6 L371.0 181.5 L368.0 180.5 L368.0 177.6"/><path class="m" style="stroke-width:2.9" d="M348.0 163.2 L352.0 164.0 L356.0 162.4 L360.8 160.0 L364.0 158.0 L370.4 154.8 L373.6 151.6 L371.2 148.4 L376.0 147.6 L382.4 148.8 L387.2 148.4 L390.4 145.2 L389.6 142.0 L392.0 138.8 L395.2 134.8 L398.4 133.2 L419.2 133.2 L420.0 130.8 L424.0 129.2 L427.2 124.4 L429.0 116.8 M303.2 160.0 L299.2 163.2 L296.0 164.8 L296.8 168.0 L293.6 171.2 L292.8 175.2 L295.2 179.2 L299.2 183.2 L302.8 186.4 L300.0 189.6 L304.8 192.8 L307.2 196.0 L308.0 199.2 M302.4 119.2 L307.2 122.0 L312.0 123.6 L316.0 126.0 L317.6 129.6 L318.0 133.6 L316.0 136.8 L319.2 130.4 L321.6 124.8 L322.4 124.0 L328.8 124.0 L332.0 123.2 L335.2 124.0 M277.3 226.4 L277.3 230.7 L277.6 236.5 L280.2 241.6 L280.9 246.0 L279.8 251.1 L279.5 254.7"/><path class="m" style="stroke-width:1.3" d="M298.0 153.6 L302.4 149.6"/><path class="m" style="stroke-width:1.4" d="M352.0 164.0 L355.5 167.5"/><path class="m" style="stroke-width:2.7" d="M355.1 247.3 L357.3 251.6 L359.5 256.7 L361.6 261.8 L363.8 266.9 L365.3 272.0 L366.7 277.1 L366.0 280.7 L364.5 284.4 L362.4 287.3"/><path class="m" style="stroke-width:2.8" d="M318.8 161.6 L318.8 186.4 L316.0 190.4 L313.6 194.4 L312.0 198.4 L308.0 199.2 M336.8 125.6 L340.0 128.0 L344.8 130.4 L346.4 133.6 L345.6 138.4 L343.2 140.8 L342.4 143.6 L347.2 141.2 L349.6 142.4 L351.2 148.0 L351.6 151.2 L348.8 155.2 L347.2 157.6 L344.8 160.8 L348.0 163.2 M335.2 124.0 L332.8 127.2 L332.0 130.4 L328.8 132.8 L330.0 136.0 L326.4 136.0 L324.8 141.6 L324.4 146.4 L326.4 148.8 L325.6 152.0 L326.4 156.0 L324.8 160.8 L322.4 161.6 M288.8 117.6 L296.0 117.2 L297.5 116.0 L302.4 118.4 L304.0 116.8 L311.2 112.8 L312.0 119.2 L313.6 115.2 L318.4 116.4 L320.0 119.6 L324.0 120.8 L327.2 118.4 L336.0 116.8 L335.2 119.2 L340.0 120.8 L342.4 124.8 L336.8 125.6 M322.4 124.0 L320.0 129.6 L318.4 136.0 L317.2 142.4 L316.4 149.6 L316.8 156.0 L317.6 160.8 L320.0 162.5 M288.8 117.6 L288.0 121.6 L288.4 124.0 L284.8 126.4 L285.6 130.4 L284.8 135.2 L288.8 137.6 L293.6 140.8 L296.0 144.8 L296.8 149.6 L298.0 153.6 L302.8 159.2 L301.0 163.0 M196.4 239.2 L201.6 242.8 L208.0 247.6 L211.2 254.0 L215.2 257.6 L220.0 260.8 L222.8 255.6 L226.4 253.6 L231.2 253.6 L234.4 257.2 L238.4 263.6 L243.2 270.8 L244.8 276.4 L248.0 279.6 L252.8 281.2 L256.8 282.0 L257.6 283.6 M240.4 219.2 L244.0 220.0 L248.0 222.0 L252.8 222.8 L257.6 224.0 L264.0 224.8 L268.8 223.2 L269.2 221.0 L270.0 223.6 L274.4 225.6 L277.3 226.4 L283.0 227.0 L277.3 226.4"/><path class="f" d="M388.6 178.4 L392.0 178.2 L394.9 177.2 L398.6 178.5 L399.9 181.5 L398.5 185.1 L397.0 188.7 L395.6 193.8 L393.6 197.5 L392.8 200.4 L392.2 205.5 L395.9 214.4 L393.2 211.6 L391.0 214.9 L389.4 217.4 L386.2 218.7 L382.5 220.2 L379.6 223.1 L375.6 224.6 L374.4 223.6 L378.4 220.0 L377.8 216.4 L379.9 219.4 L383.0 214.9 L380.1 209.3 L383.5 211.8 L386.6 210.2 L386.1 205.5 L387.5 203.3 L384.6 199.8 L379.4 197.6 L384.4 195.6 L383.0 191.8 L380.8 188.8 L382.2 186.0 L387.6 183.2Z M407.5 163.6 L419.5 163.2 L421.5 160.0 L423.3 160.6 L429.1 159.2 L429.1 163.8 L424.0 165.8 L419.6 166.5 L415.3 169.4 L413.8 172.3 L412.4 169.4 L408.0 170.9 L404.6 172.2 L404.0 170.5 L403.4 166.6 L405.8 164.4Z M299.3 251.3 L302.0 249.9 L307.6 250.6 L309.0 254.0 L310.4 259.8 L311.2 263.8 L306.4 261.0 L302.0 261.0 L299.4 262.3 L298.7 258.4 L297.9 254.0Z M305.0 246.0 L319.0 246.0 L319.0 249.8 L305.0 249.8Z"/><path d="M361.4 286.4 L364.2 287.2 L366.9 295.8Z M262.2 261.8 L261.3 252.4 L264.8 260.2Z M255.6 268.8 L247.2 271.7 L254.8 271.8Z" fill="#000" stroke="#000" stroke-width=".4"/><circle cx="342.6" cy="143.8" r="1.9"/><circle cx="316.3" cy="135.3" r="1.7"/><circle cx="330" cy="134.3" r="1.3"/><circle cx="297" cy="116.6" r="1.4"/><circle cx="272.5" cy="255.3" r="1.5"/><circle cx="337.6" cy="252.6" r="1.1"/></g><rect x="1037.5" y="95.5" width="235" height="215" fill="none" stroke="#000" stroke-width="1"/><g transform="matrix(1.0085,0,0,1.0085,839.83,-1.82)"><g fill="#80ff80"><circle cx="216.2" cy="308.5" r="4"/><circle cx="219.0" cy="309.1" r="4"/><circle cx="221.9" cy="308.0" r="4"/><circle cx="224.8" cy="307.7" r="4"/><circle cx="227.6" cy="308.8" r="4"/><circle cx="227.6" cy="307.4" r="4"/></g><g fill="#800000"><circle cx="227.0" cy="307.0" r="4"/></g><g fill="#80ff80"><circle cx="230.3" cy="307.0" r="4"/><circle cx="230.4" cy="308.8" r="4"/><circle cx="230.4" cy="306.3" r="4"/><circle cx="233.3" cy="308.8" r="4"/><circle cx="233.3" cy="306.7" r="4"/></g><g fill="#faff05"><circle cx="236.1" cy="308.8" r="4"/><circle cx="236.1" cy="305.1" r="4"/></g><g fill="#3c1200"><circle cx="235.8" cy="305.8" r="4"/></g><g fill="#faff05"><circle cx="238.2" cy="305.8" r="4"/><circle cx="239.0" cy="308.8" r="4"/><circle cx="239.0" cy="305.6" r="4"/></g><g fill="#a8ff57"><circle cx="241.8" cy="308.8" r="4"/><circle cx="241.8" cy="305.7" r="4"/><circle cx="241.8" cy="304.4" r="4"/></g><g fill="#34ffcb"><circle cx="244.7" cy="308.8" r="4"/><circle cx="244.7" cy="305.7" r="4"/><circle cx="244.7" cy="303.6" r="4"/></g><g fill="#7bff84"><circle cx="251.2" cy="308.8" r="4"/></g><g fill="#7dff82"><circle cx="251.2" cy="305.7" r="4"/></g><g fill="#80ff80"><circle cx="251.2" cy="302.5" r="4"/></g><g fill="#6fff90"><circle cx="254.1" cy="308.8" r="4"/></g><g fill="#78ff87"><circle cx="254.1" cy="305.7" r="4"/></g><g fill="#80ff80"><circle cx="254.1" cy="303.1" r="4"/></g><g fill="#5bffa4"><circle cx="257.0" cy="308.8" r="4"/></g><g fill="#41ffbe"><circle cx="257.0" cy="305.7" r="4"/></g><g fill="#1effe1"><circle cx="257.0" cy="301.6" r="4"/></g><g fill="#1affe5"><circle cx="257.4" cy="300.8" r="4"/></g><g fill="#0061ff"><circle cx="259.0" cy="301.1" r="4"/></g><g fill="#2bffd4"><circle cx="259.9" cy="308.8" r="4"/></g><g fill="#00f7ff"><circle cx="259.9" cy="305.7" r="4"/></g><g fill="#00b8ff"><circle cx="259.9" cy="301.9" r="4"/></g><g fill="#00f1ff"><circle cx="262.8" cy="308.8" r="4"/></g><g fill="#00c0ff"><circle cx="262.8" cy="305.7" r="4"/></g><g fill="#008eff"><circle cx="262.8" cy="302.6" r="4"/></g><g fill="#0070ff"><circle cx="262.8" cy="300.7" r="4"/></g><g fill="#05fffa"><circle cx="263.6" cy="299.6" r="4"/></g><g fill="#004dff"><circle cx="265.2" cy="299.9" r="4"/></g><g fill="#00acff"><circle cx="265.7" cy="308.8" r="4"/></g><g fill="#008cff"><circle cx="265.7" cy="305.7" r="4"/></g><g fill="#006dff"><circle cx="265.7" cy="302.6" r="4"/></g><g fill="#005cff"><circle cx="265.7" cy="301.0" r="4"/></g><g fill="#006cff"><circle cx="268.6" cy="308.8" r="4"/></g><g fill="#0060ff"><circle cx="268.6" cy="305.7" r="4"/></g><g fill="#0055ff"><circle cx="268.6" cy="302.6" r="4"/></g><g fill="#0049ff"><circle cx="268.6" cy="299.6" r="4"/></g><g fill="#0040ff"><circle cx="271.5" cy="308.8" r="4"/></g><g fill="#003eff"><circle cx="271.5" cy="305.7" r="4"/></g><g fill="#003cff"><circle cx="271.5" cy="302.6" r="4"/></g><g fill="#003bff"><circle cx="271.5" cy="300.0" r="4"/></g><g fill="#00d1ff"><circle cx="272.2" cy="297.8" r="4"/></g><g fill="#0019ff"><circle cx="273.8" cy="298.2" r="4"/></g><g fill="#0017ff"><circle cx="274.4" cy="308.8" r="4"/></g><g fill="#001dff"><circle cx="274.4" cy="305.7" r="4"/></g><g fill="#0023ff"><circle cx="274.4" cy="302.6" r="4"/></g><g fill="#0028ff"><circle cx="274.4" cy="299.5" r="4"/></g><g fill="#002bff"><circle cx="274.4" cy="298.3" r="4"/></g><g fill="#0009ff"><circle cx="277.3" cy="308.8" r="4"/></g><g fill="#000cff"><circle cx="277.3" cy="305.7" r="4"/></g><g fill="#000eff"><circle cx="277.3" cy="302.6" r="4"/></g><g fill="#0012ff"><circle cx="277.3" cy="299.0" r="4"/></g><g fill="#0000f9"><circle cx="280.2" cy="308.8" r="4"/><circle cx="280.2" cy="305.7" r="4"/><circle cx="280.2" cy="302.6" r="4"/><circle cx="280.2" cy="299.5" r="4"/><circle cx="280.2" cy="297.9" r="4"/></g><g fill="#0000ea"><circle cx="283.1" cy="308.8" r="4"/><circle cx="283.1" cy="305.7" r="4"/><circle cx="283.1" cy="302.6" r="4"/><circle cx="283.1" cy="299.5" r="4"/><circle cx="283.1" cy="297.5" r="4"/></g><g fill="#0000db"><circle cx="286.0" cy="308.8" r="4"/><circle cx="286.0" cy="305.7" r="4"/><circle cx="286.0" cy="302.6" r="4"/><circle cx="286.0" cy="299.5" r="4"/><circle cx="286.0" cy="297.4" r="4"/></g><g fill="#0000da"><circle cx="288.9" cy="308.8" r="4"/><circle cx="288.9" cy="305.7" r="4"/><circle cx="288.9" cy="302.6" r="4"/><circle cx="288.9" cy="299.5" r="4"/><circle cx="288.9" cy="295.7" r="4"/></g><g fill="#0000d8"><circle cx="291.8" cy="308.8" r="4"/><circle cx="291.8" cy="305.7" r="4"/><circle cx="291.8" cy="302.6" r="4"/><circle cx="291.8" cy="299.5" r="4"/><circle cx="291.8" cy="296.4" r="4"/></g><g fill="#0000d6"><circle cx="294.7" cy="308.8" r="4"/><circle cx="294.7" cy="305.7" r="4"/><circle cx="294.7" cy="302.6" r="4"/><circle cx="294.7" cy="299.5" r="4"/><circle cx="294.7" cy="295.6" r="4"/></g><g fill="#0000d5"><circle cx="297.6" cy="308.8" r="4"/><circle cx="297.6" cy="305.7" r="4"/><circle cx="297.6" cy="302.6" r="4"/><circle cx="297.6" cy="299.5" r="4"/><circle cx="297.6" cy="296.4" r="4"/><circle cx="297.6" cy="294.7" r="4"/></g><g fill="#0000d3"><circle cx="300.5" cy="308.8" r="4"/><circle cx="300.5" cy="305.7" r="4"/><circle cx="300.5" cy="302.6" r="4"/><circle cx="300.5" cy="299.5" r="4"/><circle cx="300.5" cy="296.4" r="4"/><circle cx="300.5" cy="294.9" r="4"/></g><g fill="#0000d1"><circle cx="303.4" cy="308.8" r="4"/><circle cx="303.4" cy="305.7" r="4"/><circle cx="303.4" cy="302.6" r="4"/><circle cx="303.4" cy="299.5" r="4"/><circle cx="303.4" cy="296.4" r="4"/><circle cx="303.4" cy="294.2" r="4"/></g><g fill="#0000d0"><circle cx="306.3" cy="308.8" r="4"/><circle cx="306.3" cy="305.7" r="4"/><circle cx="306.3" cy="302.6" r="4"/><circle cx="306.3" cy="299.5" r="4"/><circle cx="306.3" cy="296.7" r="4"/></g><g fill="#0000ce"><circle cx="309.2" cy="308.8" r="4"/><circle cx="309.2" cy="305.7" r="4"/><circle cx="309.2" cy="302.6" r="4"/><circle cx="309.2" cy="299.5" r="4"/><circle cx="309.2" cy="297.2" r="4"/></g></g><g transform="translate(844,0)"><rect x="441.7" y="95.5" width="22.8" height="214.9" fill="url(#jet)" stroke="#262626" stroke-width="1"/><path d="M461.5 203.6H464.5" stroke="#262626" stroke-width="1"/><text class="b c" x="472.4" y="102.8">100</text><text class="b c" x="472.4" y="209.8">50</text><text class="b c" x="472.4" y="317.6">0</text></g><g transform="translate(842,0)"><text class="b t" x="145.8" y="112.5">48</text><text class="b t" x="175" y="112.5">N</text><ellipse class="d" cx="168" cy="99.6" rx="1.6" ry="1.3"/><text class="b t" x="145.8" y="130.7">46</text><text class="b t" x="175" y="130.7">N</text><ellipse class="d" cx="168" cy="117.8" rx="1.6" ry="1.3"/><text class="b t" x="145.8" y="147.7">44</text><text class="b t" x="175" y="147.7">N</text><ellipse class="d" cx="168" cy="134.8" rx="1.6" ry="1.3"/><text class="b t" x="145.8" y="166.5">42</text><text class="b t" x="175" y="166.5">N</text><ellipse class="d" cx="168" cy="153.6" rx="1.6" ry="1.3"/><text class="b t" x="145.8" y="182.2">40</text><text class="b t" x="175" y="182.2">N</text><ellipse class="d" cx="168" cy="169.3" rx="1.6" ry="1.3"/><text class="b t" x="145.8" y="197.5">38</text><text class="b t" x="175" y="197.5">N</text><ellipse class="d" cx="168" cy="184.6" rx="1.6" ry="1.3"/><text class="b t" x="145.8" y="214.5">36</text><text class="b t" x="175" y="214.5">N</text><ellipse class="d" cx="168" cy="201.6" rx="1.6" ry="1.3"/><text class="b t" x="145.8" y="228.5">34</text><text class="b t" x="175" y="228.5">N</text><ellipse class="d" cx="168" cy="215.6" rx="1.6" ry="1.3"/><text class="b t" x="145.8" y="245.4">32</text><text class="b t" x="175" y="245.4">N</text><ellipse class="d" cx="168" cy="232.5" rx="1.6" ry="1.3"/><text class="b t" x="145.8" y="259.6">30</text><text class="b t" x="175" y="259.6">N</text><ellipse class="d" cx="168" cy="246.7" rx="1.6" ry="1.3"/><text class="b t" x="145.8" y="274.6">28</text><text class="b t" x="175" y="274.6">N</text><ellipse class="d" cx="168" cy="261.7" rx="1.6" ry="1.3"/><text class="b t" x="145.8" y="289.0">26</text><text class="b t" x="175" y="289.0">N</text><ellipse class="d" cx="168" cy="276.1" rx="1.6" ry="1.3"/><text class="b t" x="145.8" y="301.5">24</text><text class="b t" x="175" y="301.5">N</text><ellipse class="d" cx="168" cy="288.6" rx="1.6" ry="1.3"/><text class="b t" x="145.8" y="316.2">22</text><text class="b t" x="175" y="316.2">N</text><ellipse class="d" cx="168" cy="303.3" rx="1.6" ry="1.3"/></g><g transform="translate(843.3,-2)"><text class="b t" x="240.3" y="77" text-anchor="end">100</text><ellipse class="d" cx="244.9" cy="64.2" rx="1.6" ry="1.3"/><text class="b t" x="252.5" y="77">W</text><text class="b t" x="300.9" y="77" text-anchor="end">90</text><ellipse class="d" cx="305.5" cy="64.2" rx="1.6" ry="1.3"/><text class="b t" x="313.1" y="77">W</text><text class="b t" x="365.4" y="77" text-anchor="end">80</text><ellipse class="d" cx="370.0" cy="64.2" rx="1.6" ry="1.3"/><text class="b t" x="377.6" y="77">W</text><text class="b t" x="428.0" y="77" text-anchor="end">70</text><ellipse class="d" cx="432.6" cy="64.2" rx="1.6" ry="1.3"/><text class="b t" x="440.2" y="77">W</text></g><text class="b p" x="981.9" y="341.8">SAT 250 hPa RH (Percent)</text>
<g transform="matrix(1,0,0,1,0.00,389.60)"><path class="m" d="M196.4 96.8 L196.4 239.2 M196.4 96.8 L274.4 96.8 M214.8 96.8 L214.8 168.0 M196.4 133.6 L214.8 133.6 M214.8 125.4 L260.8 125.4 M214.8 151.4 L249.6 151.4 L252.8 153.2 L256.8 152.2 L260.0 153.2 L262.4 154.8 L263.6 160.0 M257.6 96.8 L258.0 102.0 L259.6 108.4 L261.0 114.8 L261.8 121.2 L261.6 125.4 L260.0 128.4 L262.2 130.4 L262.4 138.8 L262.4 146.4 L261.2 150.0 L262.4 154.8 M262.4 146.4 L295.6 146.4 M274.4 96.8 L272.8 98.8 L278.4 101.2 L284.0 100.8 L288.8 104.0 L294.4 106.0 L298.0 104.8 L306.4 106.8 L300.0 108.4 L294.4 113.6 L288.8 117.6 M196.4 168.0 L227.6 168.0 M227.6 168.0 L227.6 200.4 M227.6 176.4 L268.0 176.4 M196.4 200.4 L274.4 200.4 M221.6 200.4 L221.6 238.0 M221.6 204.4 L240.4 204.4 L240.4 219.2 M274.4 183.2 L274.4 204.4 L275.4 226.0 M263.6 160.0 L265.2 164.8 L266.4 170.4 L267.6 174.8 L270.8 177.2 L272.8 179.2 L272.0 182.0 L274.4 183.2 M266.8 171.2 L293.6 171.2 M274.4 204.4 L303.2 204.4 L301.6 207.5 L298.6 210.5 L300.5 214.0 M196.4 238.0 L221.6 238.0 M277.3 231.1 L295.8 231.1 M291.8 246.0 L304.9 246.0 L304.9 249.6 M300.5 215.6 L345.6 215.6 M307.5 203.7 L386.2 203.7 M318.8 161.6 L344.8 161.6 M335.2 161.6 L335.2 183.2 M362.6 158.5 L362.6 177.6 M362.6 177.6 L392.0 177.6 M363.0 159.3 L396.4 159.3 M330.4 216.0 L331.1 222.0 L333.3 229.3 L335.5 235.1 L334.7 240.9 L334.7 247.4 M314.8 216.0 L315.1 222.0 L313.6 229.3 L312.9 236.5 L312.5 246.0 L312.5 249.6 M312.5 246.0 L334.7 246.0 M334.7 247.6 L352.8 247.6 L353.5 249.5 L354.5 247.5 L355.2 246.8 M298.0 155.2 L316.8 155.2 M409.2 153.6 L424.0 153.6 M408.0 158.6 L421.6 158.6"/><path class="m" style="stroke-width:3.3" d="M257.6 283.0 L258.4 278.8 L256.0 275.6 L257.6 273.2 L254.6 270.4 L256.0 268.6 L260.0 263.6 L263.4 260.9 L268.8 258.0 L272.0 254.8 L276.8 255.6 L279.5 254.7"/><path class="m" style="stroke-width:3.2" d="M279.5 254.7 L284.5 254.7 L288.2 253.3 L291.8 256.2 L295.5 258.4 L299.1 259.8 M304.9 249.6 L316.8 249.8 L322.4 249.6 L326.0 249.6 L329.6 250.9 L331.8 254.5 L335.5 255.3 L337.6 253.1 L340.5 252.4 L343.5 254.5 L347.1 258.2 L349.3 260.4 L350.0 263.3 L347.8 266.2 L347.8 269.1 L350.7 272.7 L353.6 277.8 L355.1 281.5 L358.0 285.1 L359.5 287.3 L362.4 287.3 M349.0 267.5 L349.2 269.4 L352.0 273.0 L354.9 277.6 L356.4 281.0 L359.0 284.4 M405.1 165.5 L403.6 170.5 L403.6 174.9 L402.2 179.3 L400.0 182.2 L398.5 179.0 L397.1 173.5 M429.0 116.8 L428.0 124.0 L428.0 142.0 L426.4 147.6 L424.0 153.2 M396.4 159.3 L397.8 162.5 L399.3 165.5 L396.4 167.6 L395.6 170.5 L397.1 173.5 L394.9 176.0 L392.0 177.6"/><path class="m" style="stroke-width:4.4" d="M288.5 254.6 L292.8 256.4 L296.4 258.3 L299.1 259.2"/><path class="m" style="stroke-width:3" d="M377.6 179.2 L382.0 183.2 L385.2 184.2 L387.6 183.2 M428.0 142.0 L428.0 163.0 M345.5 216.0 L349.8 213.8 L359.3 213.8 L361.1 216.7 L368.0 217.1 L373.1 222.2 L375.3 224.4 M419.2 133.2 L420.0 136.4 L416.0 140.4 L413.6 145.2 L412.8 150.0 L412.0 153.6 M407.2 133.2 L407.6 140.4 L408.8 146.0 L409.2 153.2 L408.0 158.0 L407.2 162.0 L406.0 165.5 M420.0 132.4 L422.4 134.0 L422.8 142.0 L423.2 150.0 L424.0 153.2 L426.4 154.8"/><path class="m" style="stroke-width:3.5" d="M375.3 224.4 L371.6 228.0 L368.0 230.9 L363.0 225.5 L366.5 231.6 L362.9 235.3 L359.3 232.4 L360.7 237.5 L358.5 239.6 L355.6 239.6 L357.8 242.5 L354.9 246.2 L355.1 247.3 M308.0 199.2 L307.2 202.4 L304.0 207.2 L301.6 212.0 L299.2 217.6 L296.8 222.4 L296.9 222.0 L296.2 226.4 L295.8 231.1 L297.3 235.8 L293.5 236.5 L297.3 235.8 L295.5 240.2 L292.5 244.5 L291.8 246.0"/><path class="m" style="stroke-width:3.1" d="M308.0 199.2 L312.0 195.2 L315.2 192.0 L320.0 193.6 L324.0 190.4 L328.0 192.0 L332.0 187.2 L335.2 183.8 L339.2 186.4 L345.6 187.6 L348.8 186.8 L349.6 188.8 L352.0 186.4 L353.0 184.0 L356.8 182.4 L360.0 180.0 L362.8 177.6 M356.4 204.0 L352.7 206.9 L346.9 209.8 L340.4 212.7 L338.2 214.9 L338.0 216.0 M345.5 217.1 L349.1 222.2 L352.7 226.5 L356.4 230.9 L358.5 235.3 L360.0 238.2 M355.2 196.8 L350.4 199.2 L345.6 201.6 L344.0 203.6"/><path class="m" style="stroke-width:3.4" d="M349.6 188.8 L350.4 192.0 L352.8 195.6 L356.0 197.2 L360.0 197.5 L363.6 195.3 L366.5 190.2 L370.9 185.8 L375.3 182.2 L378.2 179.3 L374.5 179.6 L371.0 181.5 L368.0 180.5 L368.0 177.6"/><path class="m" style="stroke-width:2.9" d="M348.0 163.2 L352.0 164.0 L356.0 162.4 L360.8 160.0 L364.0 158.0 L370.4 154.8 L373.6 151.6 L371.2 148.4 L376.0 147.6 L382.4 148.8 L387.2 148.4 L390.4 145.2 L389.6 142.0 L392.0 138.8 L395.2 134.8 L398.4 133.2 L419.2 133.2 L420.0 130.8 L424.0 129.2 L427.2 124.4 L429.0 116.8 M303.2 160.0 L299.2 163.2 L296.0 164.8 L296.8 168.0 L293.6 171.2 L292.8 175.2 L295.2 179.2 L299.2 183.2 L302.8 186.4 L300.0 189.6 L304.8 192.8 L307.2 196.0 L308.0 199.2 M302.4 119.2 L307.2 122.0 L312.0 123.6 L316.0 126.0 L317.6 129.6 L318.0 133.6 L316.0 136.8 L319.2 130.4 L321.6 124.8 L322.4 124.0 L328.8 124.0 L332.0 123.2 L335.2 124.0 M277.3 226.4 L277.3 230.7 L277.6 236.5 L280.2 241.6 L280.9 246.0 L279.8 251.1 L279.5 254.7"/><path class="m" style="stroke-width:1.3" d="M298.0 153.6 L302.4 149.6"/><path class="m" style="stroke-width:1.4" d="M352.0 164.0 L355.5 167.5"/><path class="m" style="stroke-width:2.7" d="M355.1 247.3 L357.3 251.6 L359.5 256.7 L361.6 261.8 L363.8 266.9 L365.3 272.0 L366.7 277.1 L366.0 280.7 L364.5 284.4 L362.4 287.3"/><path class="m" style="stroke-width:2.8" d="M318.8 161.6 L318.8 186.4 L316.0 190.4 L313.6 194.4 L312.0 198.4 L308.0 199.2 M336.8 125.6 L340.0 128.0 L344.8 130.4 L346.4 133.6 L345.6 138.4 L343.2 140.8 L342.4 143.6 L347.2 141.2 L349.6 142.4 L351.2 148.0 L351.6 151.2 L348.8 155.2 L347.2 157.6 L344.8 160.8 L348.0 163.2 M335.2 124.0 L332.8 127.2 L332.0 130.4 L328.8 132.8 L330.0 136.0 L326.4 136.0 L324.8 141.6 L324.4 146.4 L326.4 148.8 L325.6 152.0 L326.4 156.0 L324.8 160.8 L322.4 161.6 M288.8 117.6 L296.0 117.2 L297.5 116.0 L302.4 118.4 L304.0 116.8 L311.2 112.8 L312.0 119.2 L313.6 115.2 L318.4 116.4 L320.0 119.6 L324.0 120.8 L327.2 118.4 L336.0 116.8 L335.2 119.2 L340.0 120.8 L342.4 124.8 L336.8 125.6 M322.4 124.0 L320.0 129.6 L318.4 136.0 L317.2 142.4 L316.4 149.6 L316.8 156.0 L317.6 160.8 L320.0 162.5 M288.8 117.6 L288.0 121.6 L288.4 124.0 L284.8 126.4 L285.6 130.4 L284.8 135.2 L288.8 137.6 L293.6 140.8 L296.0 144.8 L296.8 149.6 L298.0 153.6 L302.8 159.2 L301.0 163.0 M196.4 239.2 L201.6 242.8 L208.0 247.6 L211.2 254.0 L215.2 257.6 L220.0 260.8 L222.8 255.6 L226.4 253.6 L231.2 253.6 L234.4 257.2 L238.4 263.6 L243.2 270.8 L244.8 276.4 L248.0 279.6 L252.8 281.2 L256.8 282.0 L257.6 283.6 M240.4 219.2 L244.0 220.0 L248.0 222.0 L252.8 222.8 L257.6 224.0 L264.0 224.8 L268.8 223.2 L269.2 221.0 L270.0 223.6 L274.4 225.6 L277.3 226.4 L283.0 227.0 L277.3 226.4"/><path class="f" d="M388.6 178.4 L392.0 178.2 L394.9 177.2 L398.6 178.5 L399.9 181.5 L398.5 185.1 L397.0 188.7 L395.6 193.8 L393.6 197.5 L392.8 200.4 L392.2 205.5 L395.9 214.4 L393.2 211.6 L391.0 214.9 L389.4 217.4 L386.2 218.7 L382.5 220.2 L379.6 223.1 L375.6 224.6 L374.4 223.6 L378.4 220.0 L377.8 216.4 L379.9 219.4 L383.0 214.9 L380.1 209.3 L383.5 211.8 L386.6 210.2 L386.1 205.5 L387.5 203.3 L384.6 199.8 L379.4 197.6 L384.4 195.6 L383.0 191.8 L380.8 188.8 L382.2 186.0 L387.6 183.2Z M407.5 163.6 L419.5 163.2 L421.5 160.0 L423.3 160.6 L429.1 159.2 L429.1 163.8 L424.0 165.8 L419.6 166.5 L415.3 169.4 L413.8 172.3 L412.4 169.4 L408.0 170.9 L404.6 172.2 L404.0 170.5 L403.4 166.6 L405.8 164.4Z M299.3 251.3 L302.0 249.9 L307.6 250.6 L309.0 254.0 L310.4 259.8 L311.2 263.8 L306.4 261.0 L302.0 261.0 L299.4 262.3 L298.7 258.4 L297.9 254.0Z M305.0 246.0 L319.0 246.0 L319.0 249.8 L305.0 249.8Z"/><path d="M361.4 286.4 L364.2 287.2 L366.9 295.8Z M262.2 261.8 L261.3 252.4 L264.8 260.2Z M255.6 268.8 L247.2 271.7 L254.8 271.8Z" fill="#000" stroke="#000" stroke-width=".4"/><circle cx="342.6" cy="143.8" r="1.9"/><circle cx="316.3" cy="135.3" r="1.7"/><circle cx="330" cy="134.3" r="1.3"/><circle cx="297" cy="116.6" r="1.4"/><circle cx="272.5" cy="255.3" r="1.5"/><circle cx="337.6" cy="252.6" r="1.1"/></g><rect x="195.5" y="486.5" width="234" height="213" fill="none" stroke="#000" stroke-width="1"/><g transform="matrix(1,0,0,1,0.00,389.60)"><g fill="#5fffa0"><circle cx="216.2" cy="308.5" r="4"/></g><g fill="#56ffa9"><circle cx="219.0" cy="309.1" r="4"/></g><g fill="#27ffd8"><circle cx="221.9" cy="308.0" r="4"/></g><g fill="#03fffc"><circle cx="224.8" cy="307.7" r="4"/></g><g fill="#00fcff"><circle cx="227.6" cy="308.8" r="4"/><circle cx="227.6" cy="307.4" r="4"/></g><g fill="#00f5ff"><circle cx="230.4" cy="308.8" r="4"/><circle cx="230.4" cy="306.3" r="4"/></g><g fill="#00eeff"><circle cx="233.3" cy="308.8" r="4"/><circle cx="233.3" cy="306.7" r="4"/></g><g fill="#00e8ff"><circle cx="236.1" cy="308.8" r="4"/><circle cx="236.1" cy="305.1" r="4"/></g><g fill="#008dff"><circle cx="239.0" cy="308.8" r="4"/><circle cx="239.0" cy="305.6" r="4"/></g><g fill="#005bff"><circle cx="241.8" cy="308.8" r="4"/><circle cx="241.8" cy="305.7" r="4"/><circle cx="241.8" cy="304.4" r="4"/></g><g fill="#0051ff"><circle cx="244.7" cy="308.8" r="4"/><circle cx="244.7" cy="305.7" r="4"/><circle cx="244.7" cy="303.6" r="4"/></g><g fill="#0006ff"><circle cx="251.2" cy="308.8" r="4"/></g><g fill="#0002ff"><circle cx="251.2" cy="305.7" r="4"/></g><g fill="#0000fe"><circle cx="251.2" cy="302.5" r="4"/></g><g fill="#0000f8"><circle cx="254.1" cy="308.8" r="4"/></g><g fill="#0000f7"><circle cx="254.1" cy="305.7" r="4"/></g><g fill="#0000f5"><circle cx="254.1" cy="303.1" r="4"/></g><g fill="#0000ef"><circle cx="257.0" cy="308.8" r="4"/><circle cx="257.0" cy="305.7" r="4"/><circle cx="257.0" cy="301.6" r="4"/></g><g fill="#0000ee"><circle cx="259.9" cy="308.8" r="4"/><circle cx="259.9" cy="305.7" r="4"/><circle cx="259.9" cy="301.9" r="4"/></g><g fill="#0000ed"><circle cx="262.8" cy="308.8" r="4"/><circle cx="262.8" cy="305.7" r="4"/><circle cx="262.8" cy="302.6" r="4"/><circle cx="262.8" cy="300.7" r="4"/></g><g fill="#0000ec"><circle cx="265.7" cy="308.8" r="4"/><circle cx="265.7" cy="305.7" r="4"/><circle cx="265.7" cy="302.6" r="4"/><circle cx="265.7" cy="301.0" r="4"/></g><g fill="#0000eb"><circle cx="268.6" cy="308.8" r="4"/><circle cx="268.6" cy="305.7" r="4"/><circle cx="268.6" cy="302.6" r="4"/><circle cx="268.6" cy="299.6" r="4"/></g><g fill="#0000ea"><circle cx="271.5" cy="308.8" r="4"/><circle cx="271.5" cy="305.7" r="4"/><circle cx="271.5" cy="302.6" r="4"/><circle cx="271.5" cy="300.0" r="4"/></g><g fill="#0000e9"><circle cx="274.4" cy="308.8" r="4"/><circle cx="274.4" cy="305.7" r="4"/><circle cx="274.4" cy="302.6" r="4"/><circle cx="274.4" cy="299.5" r="4"/><circle cx="274.4" cy="298.3" r="4"/></g><g fill="#0000e8"><circle cx="277.3" cy="308.8" r="4"/><circle cx="277.3" cy="305.7" r="4"/><circle cx="277.3" cy="302.6" r="4"/><circle cx="277.3" cy="299.0" r="4"/></g><g fill="#0000e7"><circle cx="280.2" cy="308.8" r="4"/><circle cx="280.2" cy="305.7" r="4"/><circle cx="280.2" cy="302.6" r="4"/><circle cx="280.2" cy="299.5" r="4"/><circle cx="280.2" cy="297.9" r="4"/></g><g fill="#0000e6"><circle cx="283.1" cy="308.8" r="4"/><circle cx="283.1" cy="305.7" r="4"/><circle cx="283.1" cy="302.6" r="4"/><circle cx="283.1" cy="299.5" r="4"/><circle cx="283.1" cy="297.5" r="4"/><circle cx="286.0" cy="308.8" r="4"/><circle cx="286.0" cy="305.7" r="4"/><circle cx="286.0" cy="302.6" r="4"/><circle cx="286.0" cy="299.5" r="4"/><circle cx="286.0" cy="297.4" r="4"/></g><g fill="#0000ea"><circle cx="288.9" cy="308.8" r="4"/></g><g fill="#0000f0"><circle cx="288.9" cy="305.7" r="4"/></g><g fill="#0000f6"><circle cx="288.9" cy="302.6" r="4"/></g><g fill="#0000fc"><circle cx="288.9" cy="299.5" r="4"/></g><g fill="#0004ff"><circle cx="288.9" cy="295.7" r="4"/></g><g fill="#0000ef"><circle cx="291.8" cy="308.8" r="4"/></g><g fill="#0000fc"><circle cx="291.8" cy="305.7" r="4"/></g><g fill="#0009ff"><circle cx="291.8" cy="302.6" r="4"/></g><g fill="#0015ff"><circle cx="291.8" cy="299.5" r="4"/></g><g fill="#0022ff"><circle cx="291.8" cy="296.4" r="4"/></g><g fill="#0000f9"><circle cx="294.7" cy="308.8" r="4"/></g><g fill="#000cff"><circle cx="294.7" cy="305.7" r="4"/></g><g fill="#001fff"><circle cx="294.7" cy="302.6" r="4"/></g><g fill="#0031ff"><circle cx="294.7" cy="299.5" r="4"/></g><g fill="#0048ff"><circle cx="294.7" cy="295.6" r="4"/></g><g fill="#0004ff"><circle cx="297.6" cy="308.8" r="4"/></g><g fill="#001cff"><circle cx="297.6" cy="305.7" r="4"/></g><g fill="#0033ff"><circle cx="297.6" cy="302.6" r="4"/></g><g fill="#004bff"><circle cx="297.6" cy="299.5" r="4"/></g><g fill="#0063ff"><circle cx="297.6" cy="296.4" r="4"/></g><g fill="#0070ff"><circle cx="297.6" cy="294.7" r="4"/></g><g fill="#0008ff"><circle cx="300.5" cy="308.8" r="4"/></g><g fill="#0022ff"><circle cx="300.5" cy="305.7" r="4"/></g><g fill="#003cff"><circle cx="300.5" cy="302.6" r="4"/></g><g fill="#0055ff"><circle cx="300.5" cy="299.5" r="4"/></g><g fill="#006fff"><circle cx="300.5" cy="296.4" r="4"/></g><g fill="#007cff"><circle cx="300.5" cy="294.9" r="4"/></g><g fill="#000cff"><circle cx="303.4" cy="308.8" r="4"/></g><g fill="#0025ff"><circle cx="303.4" cy="305.7" r="4"/></g><g fill="#003eff"><circle cx="303.4" cy="302.6" r="4"/></g><g fill="#0058ff"><circle cx="303.4" cy="299.5" r="4"/></g><g fill="#0071ff"><circle cx="303.4" cy="296.4" r="4"/></g><g fill="#0083ff"><circle cx="303.4" cy="294.2" r="4"/></g><g fill="#000fff"><circle cx="306.3" cy="308.8" r="4"/></g><g fill="#002eff"><circle cx="306.3" cy="305.7" r="4"/></g><g fill="#004eff"><circle cx="306.3" cy="302.6" r="4"/></g><g fill="#006dff"><circle cx="306.3" cy="299.5" r="4"/></g><g fill="#0089ff"><circle cx="306.3" cy="296.7" r="4"/></g><g fill="#000fff"><circle cx="309.2" cy="308.8" r="4"/></g><g fill="#002eff"><circle cx="309.2" cy="305.7" r="4"/></g><g fill="#004cff"><circle cx="309.2" cy="302.6" r="4"/></g><g fill="#006aff"><circle cx="309.2" cy="299.5" r="4"/></g><g fill="#0080ff"><circle cx="309.2" cy="297.2" r="4"/></g></g><g transform="translate(0,390)"><rect x="441.7" y="95.5" width="22.8" height="214.9" fill="url(#jet)" stroke="#262626" stroke-width="1"/><path d="M461.5 203.6H464.5" stroke="#262626" stroke-width="1"/><text class="b c" x="472.4" y="102.8">100</text><text class="b c" x="472.4" y="209.8">50</text><text class="b c" x="472.4" y="317.6">0</text></g><g transform="translate(0,389.6)"><text class="b t" x="145.8" y="112.5">48</text><text class="b t" x="175" y="112.5">N</text><ellipse class="d" cx="168" cy="99.6" rx="1.6" ry="1.3"/><text class="b t" x="145.8" y="130.7">46</text><text class="b t" x="175" y="130.7">N</text><ellipse class="d" cx="168" cy="117.8" rx="1.6" ry="1.3"/><text class="b t" x="145.8" y="147.7">44</text><text class="b t" x="175" y="147.7">N</text><ellipse class="d" cx="168" cy="134.8" rx="1.6" ry="1.3"/><text class="b t" x="145.8" y="166.5">42</text><text class="b t" x="175" y="166.5">N</text><ellipse class="d" cx="168" cy="153.6" rx="1.6" ry="1.3"/><text class="b t" x="145.8" y="182.2">40</text><text class="b t" x="175" y="182.2">N</text><ellipse class="d" cx="168" cy="169.3" rx="1.6" ry="1.3"/><text class="b t" x="145.8" y="197.5">38</text><text class="b t" x="175" y="197.5">N</text><ellipse class="d" cx="168" cy="184.6" rx="1.6" ry="1.3"/><text class="b t" x="145.8" y="214.5">36</text><text class="b t" x="175" y="214.5">N</text><ellipse class="d" cx="168" cy="201.6" rx="1.6" ry="1.3"/><text class="b t" x="145.8" y="228.5">34</text><text class="b t" x="175" y="228.5">N</text><ellipse class="d" cx="168" cy="215.6" rx="1.6" ry="1.3"/><text class="b t" x="145.8" y="245.4">32</text><text class="b t" x="175" y="245.4">N</text><ellipse class="d" cx="168" cy="232.5" rx="1.6" ry="1.3"/><text class="b t" x="145.8" y="259.6">30</text><text class="b t" x="175" y="259.6">N</text><ellipse class="d" cx="168" cy="246.7" rx="1.6" ry="1.3"/><text class="b t" x="145.8" y="272.8">28</text><text class="b t" x="175" y="272.8">N</text><ellipse class="d" cx="168" cy="259.9" rx="1.6" ry="1.3"/><text class="b t" x="145.8" y="287.7">26</text><text class="b t" x="175" y="287.7">N</text><ellipse class="d" cx="168" cy="274.8" rx="1.6" ry="1.3"/><text class="b t" x="145.8" y="301.5">24</text><text class="b t" x="175" y="301.5">N</text><ellipse class="d" cx="168" cy="288.6" rx="1.6" ry="1.3"/><text class="b t" x="145.8" y="314.3">22</text><text class="b t" x="175" y="314.3">N</text><ellipse class="d" cx="168" cy="301.4" rx="1.6" ry="1.3"/></g><g transform="translate(0,389.6)"><text class="b t" x="240.3" y="77" text-anchor="end">100</text><ellipse class="d" cx="244.9" cy="64.2" rx="1.6" ry="1.3"/><text class="b t" x="252.5" y="77">W</text><text class="b t" x="300.9" y="77" text-anchor="end">90</text><ellipse class="d" cx="305.5" cy="64.2" rx="1.6" ry="1.3"/><text class="b t" x="313.1" y="77">W</text><text class="b t" x="365.4" y="77" text-anchor="end">80</text><ellipse class="d" cx="370.0" cy="64.2" rx="1.6" ry="1.3"/><text class="b t" x="377.6" y="77">W</text><text class="b t" x="428.0" y="77" text-anchor="end">70</text><ellipse class="d" cx="432.6" cy="64.2" rx="1.6" ry="1.3"/><text class="b t" x="440.2" y="77">W</text></g><text class="b p" x="140.3" y="731.0">SAT 300 hPa RH (Percent)</text>
<g transform="matrix(1,0,0,1,420.75,389.60)"><path class="m" d="M196.4 96.8 L196.4 239.2 M196.4 96.8 L274.4 96.8 M214.8 96.8 L214.8 168.0 M196.4 133.6 L214.8 133.6 M214.8 125.4 L260.8 125.4 M214.8 151.4 L249.6 151.4 L252.8 153.2 L256.8 152.2 L260.0 153.2 L262.4 154.8 L263.6 160.0 M257.6 96.8 L258.0 102.0 L259.6 108.4 L261.0 114.8 L261.8 121.2 L261.6 125.4 L260.0 128.4 L262.2 130.4 L262.4 138.8 L262.4 146.4 L261.2 150.0 L262.4 154.8 M262.4 146.4 L295.6 146.4 M274.4 96.8 L272.8 98.8 L278.4 101.2 L284.0 100.8 L288.8 104.0 L294.4 106.0 L298.0 104.8 L306.4 106.8 L300.0 108.4 L294.4 113.6 L288.8 117.6 M196.4 168.0 L227.6 168.0 M227.6 168.0 L227.6 200.4 M227.6 176.4 L268.0 176.4 M196.4 200.4 L274.4 200.4 M221.6 200.4 L221.6 238.0 M221.6 204.4 L240.4 204.4 L240.4 219.2 M274.4 183.2 L274.4 204.4 L275.4 226.0 M263.6 160.0 L265.2 164.8 L266.4 170.4 L267.6 174.8 L270.8 177.2 L272.8 179.2 L272.0 182.0 L274.4 183.2 M266.8 171.2 L293.6 171.2 M274.4 204.4 L303.2 204.4 L301.6 207.5 L298.6 210.5 L300.5 214.0 M196.4 238.0 L221.6 238.0 M277.3 231.1 L295.8 231.1 M291.8 246.0 L304.9 246.0 L304.9 249.6 M300.5 215.6 L345.6 215.6 M307.5 203.7 L386.2 203.7 M318.8 161.6 L344.8 161.6 M335.2 161.6 L335.2 183.2 M362.6 158.5 L362.6 177.6 M362.6 177.6 L392.0 177.6 M363.0 159.3 L396.4 159.3 M330.4 216.0 L331.1 222.0 L333.3 229.3 L335.5 235.1 L334.7 240.9 L334.7 247.4 M314.8 216.0 L315.1 222.0 L313.6 229.3 L312.9 236.5 L312.5 246.0 L312.5 249.6 M312.5 246.0 L334.7 246.0 M334.7 247.6 L352.8 247.6 L353.5 249.5 L354.5 247.5 L355.2 246.8 M298.0 155.2 L316.8 155.2 M409.2 153.6 L424.0 153.6 M408.0 158.6 L421.6 158.6"/><path class="m" style="stroke-width:3.3" d="M257.6 283.0 L258.4 278.8 L256.0 275.6 L257.6 273.2 L254.6 270.4 L256.0 268.6 L260.0 263.6 L263.4 260.9 L268.8 258.0 L272.0 254.8 L276.8 255.6 L279.5 254.7"/><path class="m" style="stroke-width:3.2" d="M279.5 254.7 L284.5 254.7 L288.2 253.3 L291.8 256.2 L295.5 258.4 L299.1 259.8 M304.9 249.6 L316.8 249.8 L322.4 249.6 L326.0 249.6 L329.6 250.9 L331.8 254.5 L335.5 255.3 L337.6 253.1 L340.5 252.4 L343.5 254.5 L347.1 258.2 L349.3 260.4 L350.0 263.3 L347.8 266.2 L347.8 269.1 L350.7 272.7 L353.6 277.8 L355.1 281.5 L358.0 285.1 L359.5 287.3 L362.4 287.3 M349.0 267.5 L349.2 269.4 L352.0 273.0 L354.9 277.6 L356.4 281.0 L359.0 284.4 M405.1 165.5 L403.6 170.5 L403.6 174.9 L402.2 179.3 L400.0 182.2 L398.5 179.0 L397.1 173.5 M429.0 116.8 L428.0 124.0 L428.0 142.0 L426.4 147.6 L424.0 153.2 M396.4 159.3 L397.8 162.5 L399.3 165.5 L396.4 167.6 L395.6 170.5 L397.1 173.5 L394.9 176.0 L392.0 177.6"/><path class="m" style="stroke-width:4.4" d="M288.5 254.6 L292.8 256.4 L296.4 258.3 L299.1 259.2"/><path class="m" style="stroke-width:3" d="M377.6 179.2 L382.0 183.2 L385.2 184.2 L387.6 183.2 M428.0 142.0 L428.0 163.0 M345.5 216.0 L349.8 213.8 L359.3 213.8 L361.1 216.7 L368.0 217.1 L373.1 222.2 L375.3 224.4 M419.2 133.2 L420.0 136.4 L416.0 140.4 L413.6 145.2 L412.8 150.0 L412.0 153.6 M407.2 133.2 L407.6 140.4 L408.8 146.0 L409.2 153.2 L408.0 158.0 L407.2 162.0 L406.0 165.5 M420.0 132.4 L422.4 134.0 L422.8 142.0 L423.2 150.0 L424.0 153.2 L426.4 154.8"/><path class="m" style="stroke-width:3.5" d="M375.3 224.4 L371.6 228.0 L368.0 230.9 L363.0 225.5 L366.5 231.6 L362.9 235.3 L359.3 232.4 L360.7 237.5 L358.5 239.6 L355.6 239.6 L357.8 242.5 L354.9 246.2 L355.1 247.3 M308.0 199.2 L307.2 202.4 L304.0 207.2 L301.6 212.0 L299.2 217.6 L296.8 222.4 L296.9 222.0 L296.2 226.4 L295.8 231.1 L297.3 235.8 L293.5 236.5 L297.3 235.8 L295.5 240.2 L292.5 244.5 L291.8 246.0"/><path class="m" style="stroke-width:3.1" d="M308.0 199.2 L312.0 195.2 L315.2 192.0 L320.0 193.6 L324.0 190.4 L328.0 192.0 L332.0 187.2 L335.2 183.8 L339.2 186.4 L345.6 187.6 L348.8 186.8 L349.6 188.8 L352.0 186.4 L353.0 184.0 L356.8 182.4 L360.0 180.0 L362.8 177.6 M356.4 204.0 L352.7 206.9 L346.9 209.8 L340.4 212.7 L338.2 214.9 L338.0 216.0 M345.5 217.1 L349.1 222.2 L352.7 226.5 L356.4 230.9 L358.5 235.3 L360.0 238.2 M355.2 196.8 L350.4 199.2 L345.6 201.6 L344.0 203.6"/><path class="m" style="stroke-width:3.4" d="M349.6 188.8 L350.4 192.0 L352.8 195.6 L356.0 197.2 L360.0 197.5 L363.6 195.3 L366.5 190.2 L370.9 185.8 L375.3 182.2 L378.2 179.3 L374.5 179.6 L371.0 181.5 L368.0 180.5 L368.0 177.6"/><path class="m" style="stroke-width:2.9" d="M348.0 163.2 L352.0 164.0 L356.0 162.4 L360.8 160.0 L364.0 158.0 L370.4 154.8 L373.6 151.6 L371.2 148.4 L376.0 147.6 L382.4 148.8 L387.2 148.4 L390.4 145.2 L389.6 142.0 L392.0 138.8 L395.2 134.8 L398.4 133.2 L419.2 133.2 L420.0 130.8 L424.0 129.2 L427.2 124.4 L429.0 116.8 M303.2 160.0 L299.2 163.2 L296.0 164.8 L296.8 168.0 L293.6 171.2 L292.8 175.2 L295.2 179.2 L299.2 183.2 L302.8 186.4 L300.0 189.6 L304.8 192.8 L307.2 196.0 L308.0 199.2 M302.4 119.2 L307.2 122.0 L312.0 123.6 L316.0 126.0 L317.6 129.6 L318.0 133.6 L316.0 136.8 L319.2 130.4 L321.6 124.8 L322.4 124.0 L328.8 124.0 L332.0 123.2 L335.2 124.0 M277.3 226.4 L277.3 230.7 L277.6 236.5 L280.2 241.6 L280.9 246.0 L279.8 251.1 L279.5 254.7"/><path class="m" style="stroke-width:1.3" d="M298.0 153.6 L302.4 149.6"/><path class="m" style="stroke-width:1.4" d="M352.0 164.0 L355.5 167.5"/><path class="m" style="stroke-width:2.7" d="M355.1 247.3 L357.3 251.6 L359.5 256.7 L361.6 261.8 L363.8 266.9 L365.3 272.0 L366.7 277.1 L366.0 280.7 L364.5 284.4 L362.4 287.3"/><path class="m" style="stroke-width:2.8" d="M318.8 161.6 L318.8 186.4 L316.0 190.4 L313.6 194.4 L312.0 198.4 L308.0 199.2 M336.8 125.6 L340.0 128.0 L344.8 130.4 L346.4 133.6 L345.6 138.4 L343.2 140.8 L342.4 143.6 L347.2 141.2 L349.6 142.4 L351.2 148.0 L351.6 151.2 L348.8 155.2 L347.2 157.6 L344.8 160.8 L348.0 163.2 M335.2 124.0 L332.8 127.2 L332.0 130.4 L328.8 132.8 L330.0 136.0 L326.4 136.0 L324.8 141.6 L324.4 146.4 L326.4 148.8 L325.6 152.0 L326.4 156.0 L324.8 160.8 L322.4 161.6 M288.8 117.6 L296.0 117.2 L297.5 116.0 L302.4 118.4 L304.0 116.8 L311.2 112.8 L312.0 119.2 L313.6 115.2 L318.4 116.4 L320.0 119.6 L324.0 120.8 L327.2 118.4 L336.0 116.8 L335.2 119.2 L340.0 120.8 L342.4 124.8 L336.8 125.6 M322.4 124.0 L320.0 129.6 L318.4 136.0 L317.2 142.4 L316.4 149.6 L316.8 156.0 L317.6 160.8 L320.0 162.5 M288.8 117.6 L288.0 121.6 L288.4 124.0 L284.8 126.4 L285.6 130.4 L284.8 135.2 L288.8 137.6 L293.6 140.8 L296.0 144.8 L296.8 149.6 L298.0 153.6 L302.8 159.2 L301.0 163.0 M196.4 239.2 L201.6 242.8 L208.0 247.6 L211.2 254.0 L215.2 257.6 L220.0 260.8 L222.8 255.6 L226.4 253.6 L231.2 253.6 L234.4 257.2 L238.4 263.6 L243.2 270.8 L244.8 276.4 L248.0 279.6 L252.8 281.2 L256.8 282.0 L257.6 283.6 M240.4 219.2 L244.0 220.0 L248.0 222.0 L252.8 222.8 L257.6 224.0 L264.0 224.8 L268.8 223.2 L269.2 221.0 L270.0 223.6 L274.4 225.6 L277.3 226.4 L283.0 227.0 L277.3 226.4"/><path class="f" d="M388.6 178.4 L392.0 178.2 L394.9 177.2 L398.6 178.5 L399.9 181.5 L398.5 185.1 L397.0 188.7 L395.6 193.8 L393.6 197.5 L392.8 200.4 L392.2 205.5 L395.9 214.4 L393.2 211.6 L391.0 214.9 L389.4 217.4 L386.2 218.7 L382.5 220.2 L379.6 223.1 L375.6 224.6 L374.4 223.6 L378.4 220.0 L377.8 216.4 L379.9 219.4 L383.0 214.9 L380.1 209.3 L383.5 211.8 L386.6 210.2 L386.1 205.5 L387.5 203.3 L384.6 199.8 L379.4 197.6 L384.4 195.6 L383.0 191.8 L380.8 188.8 L382.2 186.0 L387.6 183.2Z M407.5 163.6 L419.5 163.2 L421.5 160.0 L423.3 160.6 L429.1 159.2 L429.1 163.8 L424.0 165.8 L419.6 166.5 L415.3 169.4 L413.8 172.3 L412.4 169.4 L408.0 170.9 L404.6 172.2 L404.0 170.5 L403.4 166.6 L405.8 164.4Z M299.3 251.3 L302.0 249.9 L307.6 250.6 L309.0 254.0 L310.4 259.8 L311.2 263.8 L306.4 261.0 L302.0 261.0 L299.4 262.3 L298.7 258.4 L297.9 254.0Z M305.0 246.0 L319.0 246.0 L319.0 249.8 L305.0 249.8Z"/><path d="M361.4 286.4 L364.2 287.2 L366.9 295.8Z M262.2 261.8 L261.3 252.4 L264.8 260.2Z M255.6 268.8 L247.2 271.7 L254.8 271.8Z" fill="#000" stroke="#000" stroke-width=".4"/><circle cx="342.6" cy="143.8" r="1.9"/><circle cx="316.3" cy="135.3" r="1.7"/><circle cx="330" cy="134.3" r="1.3"/><circle cx="297" cy="116.6" r="1.4"/><circle cx="272.5" cy="255.3" r="1.5"/><circle cx="337.6" cy="252.6" r="1.1"/></g><rect x="616.5" y="486.5" width="234" height="213" fill="none" stroke="#000" stroke-width="1"/><g transform="matrix(1,0,0,1,420.75,389.60)"><g fill="#003bff"><circle cx="216.2" cy="308.5" r="4"/></g><g fill="#003cff"><circle cx="219.0" cy="309.1" r="4"/></g><g fill="#003eff"><circle cx="221.9" cy="308.0" r="4"/></g><g fill="#0040ff"><circle cx="224.8" cy="307.7" r="4"/></g><g fill="#0041ff"><circle cx="227.6" cy="308.8" r="4"/><circle cx="227.6" cy="307.4" r="4"/></g><g fill="#0055ff"><circle cx="230.4" cy="308.8" r="4"/></g><g fill="#0060ff"><circle cx="230.4" cy="306.3" r="4"/></g><g fill="#0075ff"><circle cx="233.3" cy="308.8" r="4"/></g><g fill="#0094ff"><circle cx="233.3" cy="306.7" r="4"/></g><g fill="#006fff"><circle cx="236.1" cy="308.8" r="4"/></g><g fill="#0097ff"><circle cx="236.1" cy="305.1" r="4"/></g><g fill="#006aff"><circle cx="239.0" cy="308.8" r="4"/></g><g fill="#0099ff"><circle cx="239.0" cy="305.6" r="4"/></g><g fill="#0065ff"><circle cx="241.8" cy="308.8" r="4"/></g><g fill="#008cff"><circle cx="241.8" cy="305.7" r="4"/></g><g fill="#009cff"><circle cx="241.8" cy="304.4" r="4"/></g><g fill="#006fff"><circle cx="244.7" cy="308.8" r="4"/></g><g fill="#0092ff"><circle cx="244.7" cy="305.7" r="4"/></g><g fill="#00a9ff"><circle cx="244.7" cy="303.6" r="4"/></g><g fill="#008bff"><circle cx="251.2" cy="308.8" r="4"/></g><g fill="#00acff"><circle cx="251.2" cy="305.7" r="4"/></g><g fill="#00ceff"><circle cx="251.2" cy="302.5" r="4"/></g><g fill="#006aff"><circle cx="254.1" cy="308.8" r="4"/></g><g fill="#0083ff"><circle cx="254.1" cy="305.7" r="4"/></g><g fill="#0097ff"><circle cx="254.1" cy="303.1" r="4"/></g><g fill="#004dff"><circle cx="257.0" cy="308.8" r="4"/></g><g fill="#0037ff"><circle cx="257.0" cy="305.7" r="4"/></g><g fill="#0019ff"><circle cx="257.0" cy="301.6" r="4"/></g><g fill="#0029ff"><circle cx="259.9" cy="308.8" r="4"/></g><g fill="#001aff"><circle cx="259.9" cy="305.7" r="4"/></g><g fill="#0008ff"><circle cx="259.9" cy="301.9" r="4"/></g><g fill="#000eff"><circle cx="262.8" cy="308.8" r="4"/></g><g fill="#0007ff"><circle cx="262.8" cy="305.7" r="4"/></g><g fill="#0000ff"><circle cx="262.8" cy="302.6" r="4"/></g><g fill="#0000fa"><circle cx="262.8" cy="300.7" r="4"/></g><g fill="#000aff"><circle cx="265.7" cy="308.8" r="4"/></g><g fill="#0005ff"><circle cx="265.7" cy="305.7" r="4"/></g><g fill="#0000ff"><circle cx="265.7" cy="302.6" r="4"/></g><g fill="#0000fd"><circle cx="265.7" cy="301.0" r="4"/></g><g fill="#0006ff"><circle cx="268.6" cy="308.8" r="4"/></g><g fill="#0004ff"><circle cx="268.6" cy="305.7" r="4"/></g><g fill="#0002ff"><circle cx="268.6" cy="302.6" r="4"/></g><g fill="#0000ff"><circle cx="268.6" cy="299.6" r="4"/></g><g fill="#0001ff"><circle cx="271.5" cy="308.8" r="4"/></g><g fill="#0002ff"><circle cx="271.5" cy="305.7" r="4"/><circle cx="271.5" cy="302.6" r="4"/><circle cx="271.5" cy="300.0" r="4"/></g><g fill="#0000fc"><circle cx="274.4" cy="308.8" r="4"/></g><g fill="#0000fe"><circle cx="274.4" cy="305.7" r="4"/></g><g fill="#0001ff"><circle cx="274.4" cy="302.6" r="4"/></g><g fill="#0003ff"><circle cx="274.4" cy="299.5" r="4"/></g><g fill="#0004ff"><circle cx="274.4" cy="298.3" r="4"/></g><g fill="#0000fc"><circle cx="277.3" cy="308.8" r="4"/></g><g fill="#0002ff"><circle cx="277.3" cy="305.7" r="4"/></g><g fill="#0007ff"><circle cx="277.3" cy="302.6" r="4"/></g><g fill="#000dff"><circle cx="277.3" cy="299.0" r="4"/></g><g fill="#0000ff"><circle cx="280.2" cy="308.8" r="4"/></g><g fill="#0009ff"><circle cx="280.2" cy="305.7" r="4"/></g><g fill="#0012ff"><circle cx="280.2" cy="302.6" r="4"/></g><g fill="#001bff"><circle cx="280.2" cy="299.5" r="4"/></g><g fill="#0020ff"><circle cx="280.2" cy="297.9" r="4"/></g><g fill="#0004ff"><circle cx="283.1" cy="308.8" r="4"/></g><g fill="#0011ff"><circle cx="283.1" cy="305.7" r="4"/></g><g fill="#001eff"><circle cx="283.1" cy="302.6" r="4"/></g><g fill="#002aff"><circle cx="283.1" cy="299.5" r="4"/></g><g fill="#0032ff"><circle cx="283.1" cy="297.5" r="4"/></g><g fill="#0007ff"><circle cx="286.0" cy="308.8" r="4"/></g><g fill="#0015ff"><circle cx="286.0" cy="305.7" r="4"/></g><g fill="#0023ff"><circle cx="286.0" cy="302.6" r="4"/></g><g fill="#0031ff"><circle cx="286.0" cy="299.5" r="4"/></g><g fill="#003aff"><circle cx="286.0" cy="297.4" r="4"/></g><g fill="#000aff"><circle cx="288.9" cy="308.8" r="4"/></g><g fill="#0016ff"><circle cx="288.9" cy="305.7" r="4"/></g><g fill="#0022ff"><circle cx="288.9" cy="302.6" r="4"/></g><g fill="#002eff"><circle cx="288.9" cy="299.5" r="4"/></g><g fill="#003dff"><circle cx="288.9" cy="295.7" r="4"/></g><g fill="#000dff"><circle cx="291.8" cy="308.8" r="4"/></g><g fill="#001aff"><circle cx="291.8" cy="305.7" r="4"/></g><g fill="#0027ff"><circle cx="291.8" cy="302.6" r="4"/></g><g fill="#0033ff"><circle cx="291.8" cy="299.5" r="4"/></g><g fill="#0040ff"><circle cx="291.8" cy="296.4" r="4"/></g><g fill="#0011ff"><circle cx="294.7" cy="308.8" r="4"/></g><g fill="#001fff"><circle cx="294.7" cy="305.7" r="4"/></g><g fill="#002dff"><circle cx="294.7" cy="302.6" r="4"/></g><g fill="#003cff"><circle cx="294.7" cy="299.5" r="4"/></g><g fill="#004eff"><circle cx="294.7" cy="295.6" r="4"/></g><g fill="#0017ff"><circle cx="297.6" cy="308.8" r="4"/></g><g fill="#002dff"><circle cx="297.6" cy="305.7" r="4"/></g><g fill="#0044ff"><circle cx="297.6" cy="302.6" r="4"/></g><g fill="#005aff"><circle cx="297.6" cy="299.5" r="4"/></g><g fill="#0071ff"><circle cx="297.6" cy="296.4" r="4"/></g><g fill="#007dff"><circle cx="297.6" cy="294.7" r="4"/></g><g fill="#001bff"><circle cx="300.5" cy="308.8" r="4"/></g><g fill="#0037ff"><circle cx="300.5" cy="305.7" r="4"/></g><g fill="#0053ff"><circle cx="300.5" cy="302.6" r="4"/></g><g fill="#006eff"><circle cx="300.5" cy="299.5" r="4"/></g><g fill="#008aff"><circle cx="300.5" cy="296.4" r="4"/></g><g fill="#0098ff"><circle cx="300.5" cy="294.9" r="4"/></g><g fill="#001fff"><circle cx="303.4" cy="308.8" r="4"/></g><g fill="#003aff"><circle cx="303.4" cy="305.7" r="4"/></g><g fill="#0055ff"><circle cx="303.4" cy="302.6" r="4"/></g><g fill="#0071ff"><circle cx="303.4" cy="299.5" r="4"/></g><g fill="#008cff"><circle cx="303.4" cy="296.4" r="4"/></g><g fill="#009fff"><circle cx="303.4" cy="294.2" r="4"/></g><g fill="#0023ff"><circle cx="306.3" cy="308.8" r="4"/></g><g fill="#0045ff"><circle cx="306.3" cy="305.7" r="4"/></g><g fill="#0066ff"><circle cx="306.3" cy="302.6" r="4"/></g><g fill="#0088ff"><circle cx="306.3" cy="299.5" r="4"/></g><g fill="#00a7ff"><circle cx="306.3" cy="296.7" r="4"/></g><g fill="#0024ff"><circle cx="309.2" cy="308.8" r="4"/></g><g fill="#0045ff"><circle cx="309.2" cy="305.7" r="4"/></g><g fill="#0067ff"><circle cx="309.2" cy="302.6" r="4"/></g><g fill="#0088ff"><circle cx="309.2" cy="299.5" r="4"/></g><g fill="#00a1ff"><circle cx="309.2" cy="297.2" r="4"/></g></g><g transform="translate(421,390)"><rect x="441.7" y="95.5" width="22.8" height="214.9" fill="url(#jet)" stroke="#262626" stroke-width="1"/><path d="M461.5 203.6H464.5" stroke="#262626" stroke-width="1"/><text class="b c" x="472.4" y="102.8">100</text><text class="b c" x="472.4" y="209.8">50</text><text class="b c" x="472.4" y="317.6">0</text></g><g transform="translate(421,389.6)"><text class="b t" x="145.8" y="112.5">48</text><text class="b t" x="175" y="112.5">N</text><ellipse class="d" cx="168" cy="99.6" rx="1.6" ry="1.3"/><text class="b t" x="145.8" y="130.7">46</text><text class="b t" x="175" y="130.7">N</text><ellipse class="d" cx="168" cy="117.8" rx="1.6" ry="1.3"/><text class="b t" x="145.8" y="147.7">44</text><text class="b t" x="175" y="147.7">N</text><ellipse class="d" cx="168" cy="134.8" rx="1.6" ry="1.3"/><text class="b t" x="145.8" y="166.5">42</text><text class="b t" x="175" y="166.5">N</text><ellipse class="d" cx="168" cy="153.6" rx="1.6" ry="1.3"/><text class="b t" x="145.8" y="182.2">40</text><text class="b t" x="175" y="182.2">N</text><ellipse class="d" cx="168" cy="169.3" rx="1.6" ry="1.3"/><text class="b t" x="145.8" y="197.5">38</text><text class="b t" x="175" y="197.5">N</text><ellipse class="d" cx="168" cy="184.6" rx="1.6" ry="1.3"/><text class="b t" x="145.8" y="214.5">36</text><text class="b t" x="175" y="214.5">N</text><ellipse class="d" cx="168" cy="201.6" rx="1.6" ry="1.3"/><text class="b t" x="145.8" y="228.5">34</text><text class="b t" x="175" y="228.5">N</text><ellipse class="d" cx="168" cy="215.6" rx="1.6" ry="1.3"/><text class="b t" x="145.8" y="245.4">32</text><text class="b t" x="175" y="245.4">N</text><ellipse class="d" cx="168" cy="232.5" rx="1.6" ry="1.3"/><text class="b t" x="145.8" y="259.6">30</text><text class="b t" x="175" y="259.6">N</text><ellipse class="d" cx="168" cy="246.7" rx="1.6" ry="1.3"/><text class="b t" x="145.8" y="272.8">28</text><text class="b t" x="175" y="272.8">N</text><ellipse class="d" cx="168" cy="259.9" rx="1.6" ry="1.3"/><text class="b t" x="145.8" y="287.7">26</text><text class="b t" x="175" y="287.7">N</text><ellipse class="d" cx="168" cy="274.8" rx="1.6" ry="1.3"/><text class="b t" x="145.8" y="301.5">24</text><text class="b t" x="175" y="301.5">N</text><ellipse class="d" cx="168" cy="288.6" rx="1.6" ry="1.3"/><text class="b t" x="145.8" y="314.3">22</text><text class="b t" x="175" y="314.3">N</text><ellipse class="d" cx="168" cy="301.4" rx="1.6" ry="1.3"/></g><g transform="translate(421,389.6)"><text class="b t" x="240.3" y="77" text-anchor="end">100</text><ellipse class="d" cx="244.9" cy="64.2" rx="1.6" ry="1.3"/><text class="b t" x="252.5" y="77">W</text><text class="b t" x="300.9" y="77" text-anchor="end">90</text><ellipse class="d" cx="305.5" cy="64.2" rx="1.6" ry="1.3"/><text class="b t" x="313.1" y="77">W</text><text class="b t" x="365.4" y="77" text-anchor="end">80</text><ellipse class="d" cx="370.0" cy="64.2" rx="1.6" ry="1.3"/><text class="b t" x="377.6" y="77">W</text><text class="b t" x="428.0" y="77" text-anchor="end">70</text><ellipse class="d" cx="432.6" cy="64.2" rx="1.6" ry="1.3"/><text class="b t" x="440.2" y="77">W</text></g><text class="b p" x="559.9" y="731.0">SAT 350 hPa RH (Percent)</text>
<g transform="matrix(1.0085,0,0,1.0085,839.83,387.78)"><path class="m" d="M196.4 96.8 L196.4 239.2 M196.4 96.8 L274.4 96.8 M214.8 96.8 L214.8 168.0 M196.4 133.6 L214.8 133.6 M214.8 125.4 L260.8 125.4 M214.8 151.4 L249.6 151.4 L252.8 153.2 L256.8 152.2 L260.0 153.2 L262.4 154.8 L263.6 160.0 M257.6 96.8 L258.0 102.0 L259.6 108.4 L261.0 114.8 L261.8 121.2 L261.6 125.4 L260.0 128.4 L262.2 130.4 L262.4 138.8 L262.4 146.4 L261.2 150.0 L262.4 154.8 M262.4 146.4 L295.6 146.4 M274.4 96.8 L272.8 98.8 L278.4 101.2 L284.0 100.8 L288.8 104.0 L294.4 106.0 L298.0 104.8 L306.4 106.8 L300.0 108.4 L294.4 113.6 L288.8 117.6 M196.4 168.0 L227.6 168.0 M227.6 168.0 L227.6 200.4 M227.6 176.4 L268.0 176.4 M196.4 200.4 L274.4 200.4 M221.6 200.4 L221.6 238.0 M221.6 204.4 L240.4 204.4 L240.4 219.2 M274.4 183.2 L274.4 204.4 L275.4 226.0 M263.6 160.0 L265.2 164.8 L266.4 170.4 L267.6 174.8 L270.8 177.2 L272.8 179.2 L272.0 182.0 L274.4 183.2 M266.8 171.2 L293.6 171.2 M274.4 204.4 L303.2 204.4 L301.6 207.5 L298.6 210.5 L300.5 214.0 M196.4 238.0 L221.6 238.0 M277.3 231.1 L295.8 231.1 M291.8 246.0 L304.9 246.0 L304.9 249.6 M300.5 215.6 L345.6 215.6 M307.5 203.7 L386.2 203.7 M318.8 161.6 L344.8 161.6 M335.2 161.6 L335.2 183.2 M362.6 158.5 L362.6 177.6 M362.6 177.6 L392.0 177.6 M363.0 159.3 L396.4 159.3 M330.4 216.0 L331.1 222.0 L333.3 229.3 L335.5 235.1 L334.7 240.9 L334.7 247.4 M314.8 216.0 L315.1 222.0 L313.6 229.3 L312.9 236.5 L312.5 246.0 L312.5 249.6 M312.5 246.0 L334.7 246.0 M334.7 247.6 L352.8 247.6 L353.5 249.5 L354.5 247.5 L355.2 246.8 M298.0 155.2 L316.8 155.2 M409.2 153.6 L424.0 153.6 M408.0 158.6 L421.6 158.6"/><path class="m" style="stroke-width:3.3" d="M257.6 283.0 L258.4 278.8 L256.0 275.6 L257.6 273.2 L254.6 270.4 L256.0 268.6 L260.0 263.6 L263.4 260.9 L268.8 258.0 L272.0 254.8 L276.8 255.6 L279.5 254.7"/><path class="m" style="stroke-width:3.2" d="M279.5 254.7 L284.5 254.7 L288.2 253.3 L291.8 256.2 L295.5 258.4 L299.1 259.8 M304.9 249.6 L316.8 249.8 L322.4 249.6 L326.0 249.6 L329.6 250.9 L331.8 254.5 L335.5 255.3 L337.6 253.1 L340.5 252.4 L343.5 254.5 L347.1 258.2 L349.3 260.4 L350.0 263.3 L347.8 266.2 L347.8 269.1 L350.7 272.7 L353.6 277.8 L355.1 281.5 L358.0 285.1 L359.5 287.3 L362.4 287.3 M349.0 267.5 L349.2 269.4 L352.0 273.0 L354.9 277.6 L356.4 281.0 L359.0 284.4 M405.1 165.5 L403.6 170.5 L403.6 174.9 L402.2 179.3 L400.0 182.2 L398.5 179.0 L397.1 173.5 M429.0 116.8 L428.0 124.0 L428.0 142.0 L426.4 147.6 L424.0 153.2 M396.4 159.3 L397.8 162.5 L399.3 165.5 L396.4 167.6 L395.6 170.5 L397.1 173.5 L394.9 176.0 L392.0 177.6"/><path class="m" style="stroke-width:4.4" d="M288.5 254.6 L292.8 256.4 L296.4 258.3 L299.1 259.2"/><path class="m" style="stroke-width:3" d="M377.6 179.2 L382.0 183.2 L385.2 184.2 L387.6 183.2 M428.0 142.0 L428.0 163.0 M345.5 216.0 L349.8 213.8 L359.3 213.8 L361.1 216.7 L368.0 217.1 L373.1 222.2 L375.3 224.4 M419.2 133.2 L420.0 136.4 L416.0 140.4 L413.6 145.2 L412.8 150.0 L412.0 153.6 M407.2 133.2 L407.6 140.4 L408.8 146.0 L409.2 153.2 L408.0 158.0 L407.2 162.0 L406.0 165.5 M420.0 132.4 L422.4 134.0 L422.8 142.0 L423.2 150.0 L424.0 153.2 L426.4 154.8"/><path class="m" style="stroke-width:3.5" d="M375.3 224.4 L371.6 228.0 L368.0 230.9 L363.0 225.5 L366.5 231.6 L362.9 235.3 L359.3 232.4 L360.7 237.5 L358.5 239.6 L355.6 239.6 L357.8 242.5 L354.9 246.2 L355.1 247.3 M308.0 199.2 L307.2 202.4 L304.0 207.2 L301.6 212.0 L299.2 217.6 L296.8 222.4 L296.9 222.0 L296.2 226.4 L295.8 231.1 L297.3 235.8 L293.5 236.5 L297.3 235.8 L295.5 240.2 L292.5 244.5 L291.8 246.0"/><path class="m" style="stroke-width:3.1" d="M308.0 199.2 L312.0 195.2 L315.2 192.0 L320.0 193.6 L324.0 190.4 L328.0 192.0 L332.0 187.2 L335.2 183.8 L339.2 186.4 L345.6 187.6 L348.8 186.8 L349.6 188.8 L352.0 186.4 L353.0 184.0 L356.8 182.4 L360.0 180.0 L362.8 177.6 M356.4 204.0 L352.7 206.9 L346.9 209.8 L340.4 212.7 L338.2 214.9 L338.0 216.0 M345.5 217.1 L349.1 222.2 L352.7 226.5 L356.4 230.9 L358.5 235.3 L360.0 238.2 M355.2 196.8 L350.4 199.2 L345.6 201.6 L344.0 203.6"/><path class="m" style="stroke-width:3.4" d="M349.6 188.8 L350.4 192.0 L352.8 195.6 L356.0 197.2 L360.0 197.5 L363.6 195.3 L366.5 190.2 L370.9 185.8 L375.3 182.2 L378.2 179.3 L374.5 179.6 L371.0 181.5 L368.0 180.5 L368.0 177.6"/><path class="m" style="stroke-width:2.9" d="M348.0 163.2 L352.0 164.0 L356.0 162.4 L360.8 160.0 L364.0 158.0 L370.4 154.8 L373.6 151.6 L371.2 148.4 L376.0 147.6 L382.4 148.8 L387.2 148.4 L390.4 145.2 L389.6 142.0 L392.0 138.8 L395.2 134.8 L398.4 133.2 L419.2 133.2 L420.0 130.8 L424.0 129.2 L427.2 124.4 L429.0 116.8 M303.2 160.0 L299.2 163.2 L296.0 164.8 L296.8 168.0 L293.6 171.2 L292.8 175.2 L295.2 179.2 L299.2 183.2 L302.8 186.4 L300.0 189.6 L304.8 192.8 L307.2 196.0 L308.0 199.2 M302.4 119.2 L307.2 122.0 L312.0 123.6 L316.0 126.0 L317.6 129.6 L318.0 133.6 L316.0 136.8 L319.2 130.4 L321.6 124.8 L322.4 124.0 L328.8 124.0 L332.0 123.2 L335.2 124.0 M277.3 226.4 L277.3 230.7 L277.6 236.5 L280.2 241.6 L280.9 246.0 L279.8 251.1 L279.5 254.7"/><path class="m" style="stroke-width:1.3" d="M298.0 153.6 L302.4 149.6"/><path class="m" style="stroke-width:1.4" d="M352.0 164.0 L355.5 167.5"/><path class="m" style="stroke-width:2.7" d="M355.1 247.3 L357.3 251.6 L359.5 256.7 L361.6 261.8 L363.8 266.9 L365.3 272.0 L366.7 277.1 L366.0 280.7 L364.5 284.4 L362.4 287.3"/><path class="m" style="stroke-width:2.8" d="M318.8 161.6 L318.8 186.4 L316.0 190.4 L313.6 194.4 L312.0 198.4 L308.0 199.2 M336.8 125.6 L340.0 128.0 L344.8 130.4 L346.4 133.6 L345.6 138.4 L343.2 140.8 L342.4 143.6 L347.2 141.2 L349.6 142.4 L351.2 148.0 L351.6 151.2 L348.8 155.2 L347.2 157.6 L344.8 160.8 L348.0 163.2 M335.2 124.0 L332.8 127.2 L332.0 130.4 L328.8 132.8 L330.0 136.0 L326.4 136.0 L324.8 141.6 L324.4 146.4 L326.4 148.8 L325.6 152.0 L326.4 156.0 L324.8 160.8 L322.4 161.6 M288.8 117.6 L296.0 117.2 L297.5 116.0 L302.4 118.4 L304.0 116.8 L311.2 112.8 L312.0 119.2 L313.6 115.2 L318.4 116.4 L320.0 119.6 L324.0 120.8 L327.2 118.4 L336.0 116.8 L335.2 119.2 L340.0 120.8 L342.4 124.8 L336.8 125.6 M322.4 124.0 L320.0 129.6 L318.4 136.0 L317.2 142.4 L316.4 149.6 L316.8 156.0 L317.6 160.8 L320.0 162.5 M288.8 117.6 L288.0 121.6 L288.4 124.0 L284.8 126.4 L285.6 130.4 L284.8 135.2 L288.8 137.6 L293.6 140.8 L296.0 144.8 L296.8 149.6 L298.0 153.6 L302.8 159.2 L301.0 163.0 M196.4 239.2 L201.6 242.8 L208.0 247.6 L211.2 254.0 L215.2 257.6 L220.0 260.8 L222.8 255.6 L226.4 253.6 L231.2 253.6 L234.4 257.2 L238.4 263.6 L243.2 270.8 L244.8 276.4 L248.0 279.6 L252.8 281.2 L256.8 282.0 L257.6 283.6 M240.4 219.2 L244.0 220.0 L248.0 222.0 L252.8 222.8 L257.6 224.0 L264.0 224.8 L268.8 223.2 L269.2 221.0 L270.0 223.6 L274.4 225.6 L277.3 226.4 L283.0 227.0 L277.3 226.4"/><path class="f" d="M388.6 178.4 L392.0 178.2 L394.9 177.2 L398.6 178.5 L399.9 181.5 L398.5 185.1 L397.0 188.7 L395.6 193.8 L393.6 197.5 L392.8 200.4 L392.2 205.5 L395.9 214.4 L393.2 211.6 L391.0 214.9 L389.4 217.4 L386.2 218.7 L382.5 220.2 L379.6 223.1 L375.6 224.6 L374.4 223.6 L378.4 220.0 L377.8 216.4 L379.9 219.4 L383.0 214.9 L380.1 209.3 L383.5 211.8 L386.6 210.2 L386.1 205.5 L387.5 203.3 L384.6 199.8 L379.4 197.6 L384.4 195.6 L383.0 191.8 L380.8 188.8 L382.2 186.0 L387.6 183.2Z M407.5 163.6 L419.5 163.2 L421.5 160.0 L423.3 160.6 L429.1 159.2 L429.1 163.8 L424.0 165.8 L419.6 166.5 L415.3 169.4 L413.8 172.3 L412.4 169.4 L408.0 170.9 L404.6 172.2 L404.0 170.5 L403.4 166.6 L405.8 164.4Z M299.3 251.3 L302.0 249.9 L307.6 250.6 L309.0 254.0 L310.4 259.8 L311.2 263.8 L306.4 261.0 L302.0 261.0 L299.4 262.3 L298.7 258.4 L297.9 254.0Z M305.0 246.0 L319.0 246.0 L319.0 249.8 L305.0 249.8Z"/><path d="M361.4 286.4 L364.2 287.2 L366.9 295.8Z M262.2 261.8 L261.3 252.4 L264.8 260.2Z M255.6 268.8 L247.2 271.7 L254.8 271.8Z" fill="#000" stroke="#000" stroke-width=".4"/><circle cx="342.6" cy="143.8" r="1.9"/><circle cx="316.3" cy="135.3" r="1.7"/><circle cx="330" cy="134.3" r="1.3"/><circle cx="297" cy="116.6" r="1.4"/><circle cx="272.5" cy="255.3" r="1.5"/><circle cx="337.6" cy="252.6" r="1.1"/></g><rect x="1037.5" y="485.5" width="235" height="215" fill="none" stroke="#000" stroke-width="1"/><g transform="matrix(1.0085,0,0,1.0085,839.83,387.78)"><g fill="#00f4ff"><circle cx="216.2" cy="308.5" r="4"/></g><g fill="#00edff"><circle cx="219.0" cy="309.1" r="4"/></g><g fill="#00e6ff"><circle cx="221.9" cy="308.0" r="4"/></g><g fill="#00deff"><circle cx="224.8" cy="307.7" r="4"/></g><g fill="#00b5ff"><circle cx="227.6" cy="308.8" r="4"/><circle cx="227.6" cy="307.4" r="4"/></g><g fill="#0091ff"><circle cx="230.4" cy="308.8" r="4"/><circle cx="230.4" cy="306.3" r="4"/></g><g fill="#008bff"><circle cx="233.3" cy="308.8" r="4"/><circle cx="233.3" cy="306.7" r="4"/></g><g fill="#005eff"><circle cx="236.1" cy="308.8" r="4"/><circle cx="236.1" cy="305.1" r="4"/></g><g fill="#4dffb2"><circle cx="235.8" cy="305.4" r="4"/></g><g fill="#0038ff"><circle cx="238.4" cy="305.8" r="4"/><circle cx="239.0" cy="308.8" r="4"/><circle cx="239.0" cy="305.6" r="4"/><circle cx="241.8" cy="308.8" r="4"/><circle cx="241.8" cy="305.7" r="4"/><circle cx="241.8" cy="304.4" r="4"/><circle cx="244.7" cy="308.8" r="4"/><circle cx="244.7" cy="305.7" r="4"/><circle cx="244.7" cy="303.6" r="4"/></g><g fill="#0066ff"><circle cx="251.2" cy="308.8" r="4"/></g><g fill="#006dff"><circle cx="251.2" cy="305.7" r="4"/></g><g fill="#0074ff"><circle cx="251.2" cy="302.5" r="4"/></g><g fill="#005eff"><circle cx="254.1" cy="308.8" r="4"/></g><g fill="#0068ff"><circle cx="254.1" cy="305.7" r="4"/></g><g fill="#0071ff"><circle cx="254.1" cy="303.1" r="4"/></g><g fill="#0055ff"><circle cx="257.0" cy="308.8" r="4"/></g><g fill="#0060ff"><circle cx="257.0" cy="305.7" r="4"/></g><g fill="#006eff"><circle cx="257.0" cy="301.6" r="4"/></g><g fill="#004dff"><circle cx="259.9" cy="308.8" r="4"/></g><g fill="#005aff"><circle cx="259.9" cy="305.7" r="4"/></g><g fill="#006bff"><circle cx="259.9" cy="301.9" r="4"/></g><g fill="#0030ff"><circle cx="262.8" cy="308.8" r="4"/></g><g fill="#0039ff"><circle cx="262.8" cy="305.7" r="4"/></g><g fill="#0042ff"><circle cx="262.8" cy="302.6" r="4"/></g><g fill="#0047ff"><circle cx="262.8" cy="300.7" r="4"/></g><g fill="#0021ff"><circle cx="265.7" cy="308.8" r="4"/></g><g fill="#002aff"><circle cx="265.7" cy="305.7" r="4"/></g><g fill="#0032ff"><circle cx="265.7" cy="302.6" r="4"/></g><g fill="#0037ff"><circle cx="265.7" cy="301.0" r="4"/></g><g fill="#001dff"><circle cx="268.6" cy="308.8" r="4"/></g><g fill="#0025ff"><circle cx="268.6" cy="305.7" r="4"/></g><g fill="#002dff"><circle cx="268.6" cy="302.6" r="4"/></g><g fill="#0035ff"><circle cx="268.6" cy="299.6" r="4"/></g><g fill="#0019ff"><circle cx="271.5" cy="308.8" r="4"/></g><g fill="#0022ff"><circle cx="271.5" cy="305.7" r="4"/></g><g fill="#002bff"><circle cx="271.5" cy="302.6" r="4"/></g><g fill="#0033ff"><circle cx="271.5" cy="300.0" r="4"/></g><g fill="#0015ff"><circle cx="274.4" cy="308.8" r="4"/></g><g fill="#001dff"><circle cx="274.4" cy="305.7" r="4"/></g><g fill="#0025ff"><circle cx="274.4" cy="302.6" r="4"/></g><g fill="#002dff"><circle cx="274.4" cy="299.5" r="4"/></g><g fill="#0031ff"><circle cx="274.4" cy="298.3" r="4"/></g><g fill="#0010ff"><circle cx="277.3" cy="308.8" r="4"/></g><g fill="#001aff"><circle cx="277.3" cy="305.7" r="4"/></g><g fill="#0023ff"><circle cx="277.3" cy="302.6" r="4"/></g><g fill="#002eff"><circle cx="277.3" cy="299.0" r="4"/></g><g fill="#0000ff"><circle cx="280.2" cy="308.8" r="4"/></g><g fill="#0006ff"><circle cx="280.2" cy="305.7" r="4"/></g><g fill="#000bff"><circle cx="280.2" cy="302.6" r="4"/></g><g fill="#0011ff"><circle cx="280.2" cy="299.5" r="4"/></g><g fill="#0014ff"><circle cx="280.2" cy="297.9" r="4"/></g><g fill="#0000ec"><circle cx="283.1" cy="308.8" r="4"/></g><g fill="#0000ed"><circle cx="283.1" cy="305.7" r="4"/></g><g fill="#0000ee"><circle cx="283.1" cy="302.6" r="4"/></g><g fill="#0000ef"><circle cx="283.1" cy="299.5" r="4"/></g><g fill="#0000f0"><circle cx="283.1" cy="297.5" r="4"/></g><g fill="#0000e5"><circle cx="286.0" cy="308.8" r="4"/><circle cx="286.0" cy="305.7" r="4"/><circle cx="286.0" cy="302.6" r="4"/><circle cx="286.0" cy="299.5" r="4"/><circle cx="286.0" cy="297.4" r="4"/></g><g fill="#0000e4"><circle cx="288.9" cy="308.8" r="4"/><circle cx="288.9" cy="305.7" r="4"/><circle cx="288.9" cy="302.6" r="4"/><circle cx="288.9" cy="299.5" r="4"/><circle cx="288.9" cy="295.7" r="4"/></g><g fill="#0000e3"><circle cx="291.8" cy="308.8" r="4"/><circle cx="291.8" cy="305.7" r="4"/><circle cx="291.8" cy="302.6" r="4"/><circle cx="291.8" cy="299.5" r="4"/><circle cx="291.8" cy="296.4" r="4"/></g><g fill="#0000e2"><circle cx="294.7" cy="308.8" r="4"/><circle cx="294.7" cy="305.7" r="4"/><circle cx="294.7" cy="302.6" r="4"/><circle cx="294.7" cy="299.5" r="4"/><circle cx="294.7" cy="295.6" r="4"/></g><g fill="#0000e1"><circle cx="297.6" cy="308.8" r="4"/><circle cx="297.6" cy="305.7" r="4"/><circle cx="297.6" cy="302.6" r="4"/><circle cx="297.6" cy="299.5" r="4"/><circle cx="297.6" cy="296.4" r="4"/><circle cx="297.6" cy="294.7" r="4"/></g><g fill="#0000e0"><circle cx="300.5" cy="308.8" r="4"/><circle cx="300.5" cy="305.7" r="4"/><circle cx="300.5" cy="302.6" r="4"/><circle cx="300.5" cy="299.5" r="4"/><circle cx="300.5" cy="296.4" r="4"/><circle cx="300.5" cy="294.9" r="4"/></g><g fill="#0000df"><circle cx="303.4" cy="308.8" r="4"/><circle cx="303.4" cy="305.7" r="4"/><circle cx="303.4" cy="302.6" r="4"/><circle cx="303.4" cy="299.5" r="4"/><circle cx="303.4" cy="296.4" r="4"/><circle cx="303.4" cy="294.2" r="4"/></g><g fill="#0000de"><circle cx="306.3" cy="308.8" r="4"/><circle cx="306.3" cy="305.7" r="4"/><circle cx="306.3" cy="302.6" r="4"/><circle cx="306.3" cy="299.5" r="4"/><circle cx="306.3" cy="296.7" r="4"/></g><g fill="#0000dd"><circle cx="309.2" cy="308.8" r="4"/><circle cx="309.2" cy="305.7" r="4"/><circle cx="309.2" cy="302.6" r="4"/><circle cx="309.2" cy="299.5" r="4"/><circle cx="309.2" cy="297.2" r="4"/></g></g><g transform="translate(844,390)"><rect x="441.7" y="95.5" width="22.8" height="214.9" fill="url(#jet)" stroke="#262626" stroke-width="1"/><path d="M461.5 203.6H464.5" stroke="#262626" stroke-width="1"/><text class="b c" x="472.4" y="102.8">100</text><text class="b c" x="472.4" y="209.8">50</text><text class="b c" x="472.4" y="317.6">0</text></g><g transform="translate(842,389.6)"><text class="b t" x="145.8" y="112.5">48</text><text class="b t" x="175" y="112.5">N</text><ellipse class="d" cx="168" cy="99.6" rx="1.6" ry="1.3"/><text class="b t" x="145.8" y="130.7">46</text><text class="b t" x="175" y="130.7">N</text><ellipse class="d" cx="168" cy="117.8" rx="1.6" ry="1.3"/><text class="b t" x="145.8" y="147.7">44</text><text class="b t" x="175" y="147.7">N</text><ellipse class="d" cx="168" cy="134.8" rx="1.6" ry="1.3"/><text class="b t" x="145.8" y="166.5">42</text><text class="b t" x="175" y="166.5">N</text><ellipse class="d" cx="168" cy="153.6" rx="1.6" ry="1.3"/><text class="b t" x="145.8" y="182.2">40</text><text class="b t" x="175" y="182.2">N</text><ellipse class="d" cx="168" cy="169.3" rx="1.6" ry="1.3"/><text class="b t" x="145.8" y="197.5">38</text><text class="b t" x="175" y="197.5">N</text><ellipse class="d" cx="168" cy="184.6" rx="1.6" ry="1.3"/><text class="b t" x="145.8" y="214.5">36</text><text class="b t" x="175" y="214.5">N</text><ellipse class="d" cx="168" cy="201.6" rx="1.6" ry="1.3"/><text class="b t" x="145.8" y="228.5">34</text><text class="b t" x="175" y="228.5">N</text><ellipse class="d" cx="168" cy="215.6" rx="1.6" ry="1.3"/><text class="b t" x="145.8" y="245.4">32</text><text class="b t" x="175" y="245.4">N</text><ellipse class="d" cx="168" cy="232.5" rx="1.6" ry="1.3"/><text class="b t" x="145.8" y="259.6">30</text><text class="b t" x="175" y="259.6">N</text><ellipse class="d" cx="168" cy="246.7" rx="1.6" ry="1.3"/><text class="b t" x="145.8" y="274.6">28</text><text class="b t" x="175" y="274.6">N</text><ellipse class="d" cx="168" cy="261.7" rx="1.6" ry="1.3"/><text class="b t" x="145.8" y="289.0">26</text><text class="b t" x="175" y="289.0">N</text><ellipse class="d" cx="168" cy="276.1" rx="1.6" ry="1.3"/><text class="b t" x="145.8" y="301.5">24</text><text class="b t" x="175" y="301.5">N</text><ellipse class="d" cx="168" cy="288.6" rx="1.6" ry="1.3"/><text class="b t" x="145.8" y="316.2">22</text><text class="b t" x="175" y="316.2">N</text><ellipse class="d" cx="168" cy="303.3" rx="1.6" ry="1.3"/></g><g transform="translate(843.3,387.6)"><text class="b t" x="240.3" y="77" text-anchor="end">100</text><ellipse class="d" cx="244.9" cy="64.2" rx="1.6" ry="1.3"/><text class="b t" x="252.5" y="77">W</text><text class="b t" x="300.9" y="77" text-anchor="end">90</text><ellipse class="d" cx="305.5" cy="64.2" rx="1.6" ry="1.3"/><text class="b t" x="313.1" y="77">W</text><text class="b t" x="365.4" y="77" text-anchor="end">80</text><ellipse class="d" cx="370.0" cy="64.2" rx="1.6" ry="1.3"/><text class="b t" x="377.6" y="77">W</text><text class="b t" x="428.0" y="77" text-anchor="end">70</text><ellipse class="d" cx="432.6" cy="64.2" rx="1.6" ry="1.3"/><text class="b t" x="440.2" y="77">W</text></g><text class="b p" x="981.9" y="731.8">SAT 400 hPa RH (Percent)</text>
</svg></body></html>
